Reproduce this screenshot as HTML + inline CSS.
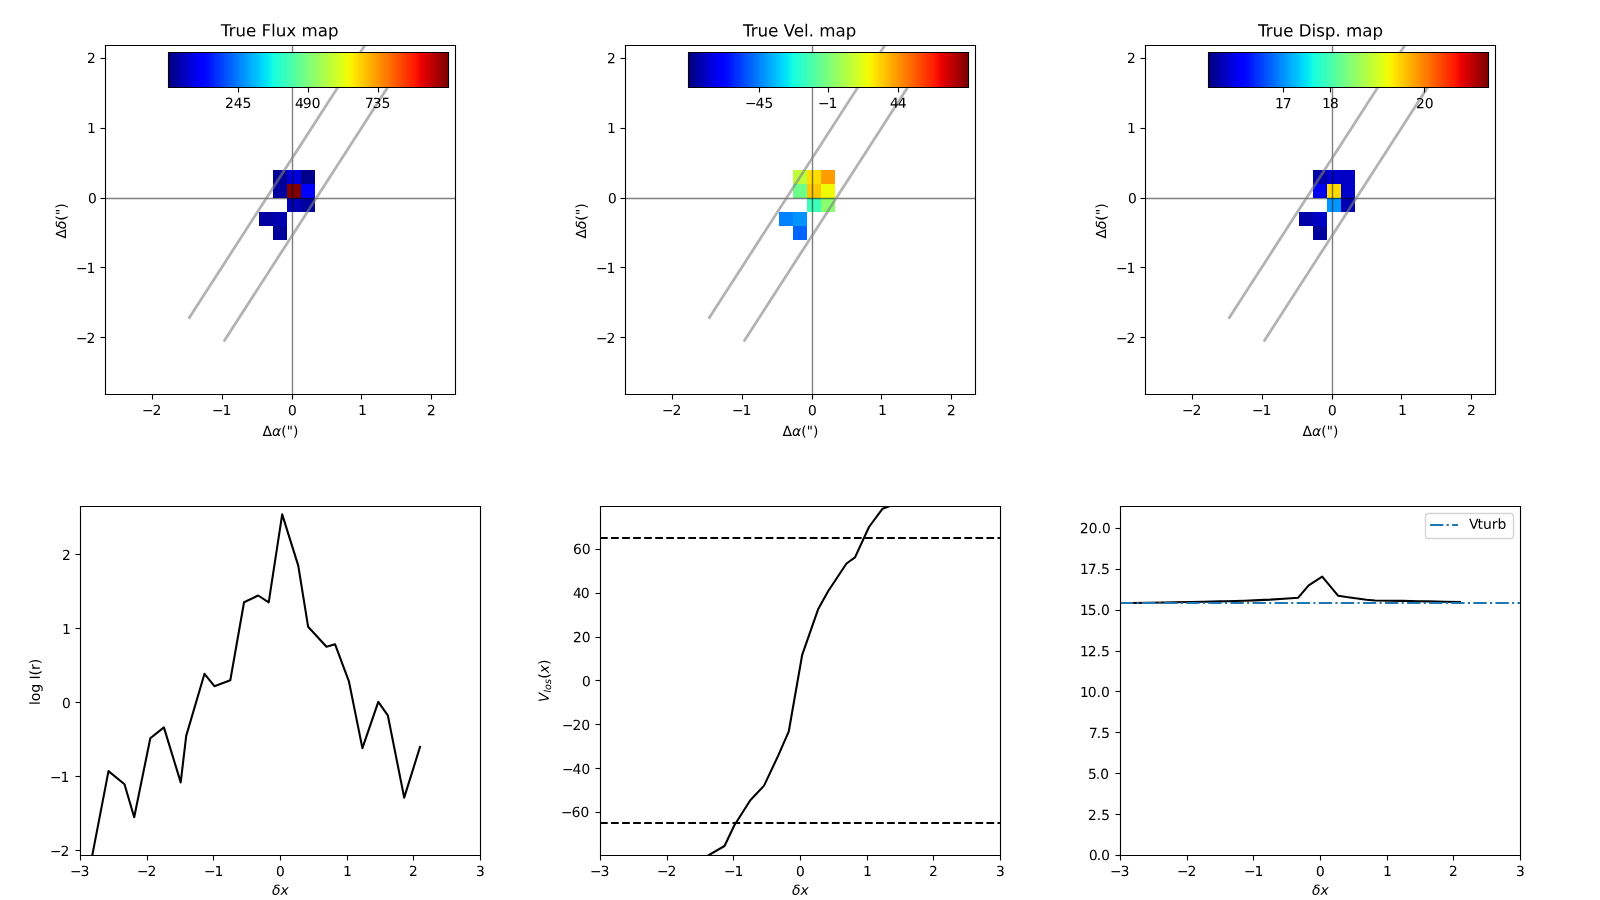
<!DOCTYPE html><html><head><meta charset="utf-8"><title>figure</title><style>html,body{margin:0;padding:0;background:#fff;font-family:"Liberation Sans",sans-serif}svg{display:block}.tx{fill:#000;fill-opacity:0;stroke:none;font-family:"Liberation Sans",sans-serif}</style></head><body><svg width="1600" height="900" viewBox="0 0 1152 648"><defs><g id="cbg" shape-rendering="crispEdges"><rect x="0" y="0" width="1" height="35" fill="#000080"/><rect x="1" y="0" width="2" height="35" fill="#000084"/><rect x="3" y="0" width="1" height="35" fill="#000089"/><rect x="4" y="0" width="1" height="35" fill="#00008d"/><rect x="5" y="0" width="1" height="35" fill="#000092"/><rect x="6" y="0" width="1" height="35" fill="#000096"/><rect x="7" y="0" width="1" height="35" fill="#00009b"/><rect x="8" y="0" width="1" height="35" fill="#00009f"/><rect x="9" y="0" width="1" height="35" fill="#0000a4"/><rect x="10" y="0" width="1" height="35" fill="#0000a8"/><rect x="11" y="0" width="1" height="35" fill="#0000ad"/><rect x="12" y="0" width="1" height="35" fill="#0000b2"/><rect x="13" y="0" width="2" height="35" fill="#0000b6"/><rect x="15" y="0" width="1" height="35" fill="#0000bb"/><rect x="16" y="0" width="1" height="35" fill="#0000bf"/><rect x="17" y="0" width="1" height="35" fill="#0000c4"/><rect x="18" y="0" width="1" height="35" fill="#0000c8"/><rect x="19" y="0" width="1" height="35" fill="#0000cd"/><rect x="20" y="0" width="1" height="35" fill="#0000d1"/><rect x="21" y="0" width="1" height="35" fill="#0000d6"/><rect x="22" y="0" width="1" height="35" fill="#0000da"/><rect x="23" y="0" width="1" height="35" fill="#0000df"/><rect x="24" y="0" width="1" height="35" fill="#0000e3"/><rect x="25" y="0" width="2" height="35" fill="#0000e8"/><rect x="27" y="0" width="1" height="35" fill="#0000ed"/><rect x="28" y="0" width="1" height="35" fill="#0000f1"/><rect x="29" y="0" width="1" height="35" fill="#0000f6"/><rect x="30" y="0" width="1" height="35" fill="#0000fa"/><rect x="31" y="0" width="5" height="35" fill="#0000ff"/><rect x="36" y="0" width="1" height="35" fill="#0004ff"/><rect x="37" y="0" width="2" height="35" fill="#0008ff"/><rect x="39" y="0" width="1" height="35" fill="#000cff"/><rect x="40" y="0" width="1" height="35" fill="#0010ff"/><rect x="41" y="0" width="1" height="35" fill="#0014ff"/><rect x="42" y="0" width="1" height="35" fill="#0018ff"/><rect x="43" y="0" width="1" height="35" fill="#001cff"/><rect x="44" y="0" width="1" height="35" fill="#0020ff"/><rect x="45" y="0" width="1" height="35" fill="#0024ff"/><rect x="46" y="0" width="1" height="35" fill="#0028ff"/><rect x="47" y="0" width="1" height="35" fill="#002cff"/><rect x="48" y="0" width="1" height="35" fill="#0030ff"/><rect x="49" y="0" width="2" height="35" fill="#0034ff"/><rect x="51" y="0" width="1" height="35" fill="#0038ff"/><rect x="52" y="0" width="1" height="35" fill="#003cff"/><rect x="53" y="0" width="1" height="35" fill="#0040ff"/><rect x="54" y="0" width="1" height="35" fill="#0044ff"/><rect x="55" y="0" width="1" height="35" fill="#0048ff"/><rect x="56" y="0" width="1" height="35" fill="#004cff"/><rect x="57" y="0" width="1" height="35" fill="#0050ff"/><rect x="58" y="0" width="1" height="35" fill="#0054ff"/><rect x="59" y="0" width="1" height="35" fill="#0058ff"/><rect x="60" y="0" width="1" height="35" fill="#005cff"/><rect x="61" y="0" width="2" height="35" fill="#0060ff"/><rect x="63" y="0" width="1" height="35" fill="#0064ff"/><rect x="64" y="0" width="1" height="35" fill="#0068ff"/><rect x="65" y="0" width="1" height="35" fill="#006cff"/><rect x="66" y="0" width="1" height="35" fill="#0070ff"/><rect x="67" y="0" width="1" height="35" fill="#0074ff"/><rect x="68" y="0" width="1" height="35" fill="#0078ff"/><rect x="69" y="0" width="1" height="35" fill="#007cff"/><rect x="70" y="0" width="1" height="35" fill="#0080ff"/><rect x="71" y="0" width="1" height="35" fill="#0084ff"/><rect x="72" y="0" width="1" height="35" fill="#0088ff"/><rect x="73" y="0" width="2" height="35" fill="#008cff"/><rect x="75" y="0" width="1" height="35" fill="#0090ff"/><rect x="76" y="0" width="1" height="35" fill="#0094ff"/><rect x="77" y="0" width="1" height="35" fill="#0098ff"/><rect x="78" y="0" width="1" height="35" fill="#009cff"/><rect x="79" y="0" width="1" height="35" fill="#00a0ff"/><rect x="80" y="0" width="1" height="35" fill="#00a4ff"/><rect x="81" y="0" width="1" height="35" fill="#00a8ff"/><rect x="82" y="0" width="1" height="35" fill="#00acff"/><rect x="83" y="0" width="1" height="35" fill="#00b0ff"/><rect x="84" y="0" width="1" height="35" fill="#00b4ff"/><rect x="85" y="0" width="2" height="35" fill="#00b8ff"/><rect x="87" y="0" width="1" height="35" fill="#00bcff"/><rect x="88" y="0" width="1" height="35" fill="#00c0ff"/><rect x="89" y="0" width="1" height="35" fill="#00c4ff"/><rect x="90" y="0" width="1" height="35" fill="#00c8ff"/><rect x="91" y="0" width="1" height="35" fill="#00ccff"/><rect x="92" y="0" width="1" height="35" fill="#00d0ff"/><rect x="93" y="0" width="1" height="35" fill="#00d4ff"/><rect x="94" y="0" width="1" height="35" fill="#00d8ff"/><rect x="95" y="0" width="1" height="35" fill="#00dcfe"/><rect x="96" y="0" width="1" height="35" fill="#00e0fb"/><rect x="97" y="0" width="2" height="35" fill="#00e4f8"/><rect x="99" y="0" width="1" height="35" fill="#02e8f4"/><rect x="100" y="0" width="1" height="35" fill="#06ecf1"/><rect x="101" y="0" width="1" height="35" fill="#09f0ee"/><rect x="102" y="0" width="1" height="35" fill="#0cf4eb"/><rect x="103" y="0" width="1" height="35" fill="#0ff8e7"/><rect x="104" y="0" width="1" height="35" fill="#13fce4"/><rect x="105" y="0" width="1" height="35" fill="#16ffe1"/><rect x="106" y="0" width="1" height="35" fill="#19ffde"/><rect x="107" y="0" width="1" height="35" fill="#1cffdb"/><rect x="108" y="0" width="1" height="35" fill="#1fffd7"/><rect x="109" y="0" width="2" height="35" fill="#23ffd4"/><rect x="111" y="0" width="1" height="35" fill="#26ffd1"/><rect x="112" y="0" width="1" height="35" fill="#29ffce"/><rect x="113" y="0" width="1" height="35" fill="#2cffca"/><rect x="114" y="0" width="1" height="35" fill="#30ffc7"/><rect x="115" y="0" width="1" height="35" fill="#33ffc4"/><rect x="116" y="0" width="1" height="35" fill="#36ffc1"/><rect x="117" y="0" width="1" height="35" fill="#39ffbe"/><rect x="118" y="0" width="1" height="35" fill="#3cffba"/><rect x="119" y="0" width="1" height="35" fill="#40ffb7"/><rect x="120" y="0" width="1" height="35" fill="#43ffb4"/><rect x="121" y="0" width="2" height="35" fill="#46ffb1"/><rect x="123" y="0" width="1" height="35" fill="#49ffad"/><rect x="124" y="0" width="1" height="35" fill="#4dffaa"/><rect x="125" y="0" width="1" height="35" fill="#50ffa7"/><rect x="126" y="0" width="1" height="35" fill="#53ffa4"/><rect x="127" y="0" width="1" height="35" fill="#56ffa0"/><rect x="128" y="0" width="1" height="35" fill="#5aff9d"/><rect x="129" y="0" width="1" height="35" fill="#5dff9a"/><rect x="130" y="0" width="1" height="35" fill="#60ff97"/><rect x="131" y="0" width="1" height="35" fill="#63ff94"/><rect x="132" y="0" width="1" height="35" fill="#66ff90"/><rect x="133" y="0" width="2" height="35" fill="#6aff8d"/><rect x="135" y="0" width="1" height="35" fill="#6dff8a"/><rect x="136" y="0" width="1" height="35" fill="#70ff87"/><rect x="137" y="0" width="1" height="35" fill="#73ff83"/><rect x="138" y="0" width="1" height="35" fill="#77ff80"/><rect x="139" y="0" width="1" height="35" fill="#7aff7d"/><rect x="140" y="0" width="1" height="35" fill="#7dff7a"/><rect x="141" y="0" width="1" height="35" fill="#80ff77"/><rect x="142" y="0" width="1" height="35" fill="#83ff73"/><rect x="143" y="0" width="1" height="35" fill="#87ff70"/><rect x="144" y="0" width="1" height="35" fill="#8aff6d"/><rect x="145" y="0" width="2" height="35" fill="#8dff6a"/><rect x="147" y="0" width="1" height="35" fill="#90ff66"/><rect x="148" y="0" width="1" height="35" fill="#94ff63"/><rect x="149" y="0" width="1" height="35" fill="#97ff60"/><rect x="150" y="0" width="1" height="35" fill="#9aff5d"/><rect x="151" y="0" width="1" height="35" fill="#9dff5a"/><rect x="152" y="0" width="1" height="35" fill="#a0ff56"/><rect x="153" y="0" width="1" height="35" fill="#a4ff53"/><rect x="154" y="0" width="1" height="35" fill="#a7ff50"/><rect x="155" y="0" width="1" height="35" fill="#aaff4d"/><rect x="156" y="0" width="1" height="35" fill="#adff49"/><rect x="157" y="0" width="2" height="35" fill="#b1ff46"/><rect x="159" y="0" width="1" height="35" fill="#b4ff43"/><rect x="160" y="0" width="1" height="35" fill="#b7ff40"/><rect x="161" y="0" width="1" height="35" fill="#baff3c"/><rect x="162" y="0" width="1" height="35" fill="#beff39"/><rect x="163" y="0" width="1" height="35" fill="#c1ff36"/><rect x="164" y="0" width="1" height="35" fill="#c4ff33"/><rect x="165" y="0" width="1" height="35" fill="#c7ff30"/><rect x="166" y="0" width="1" height="35" fill="#caff2c"/><rect x="167" y="0" width="1" height="35" fill="#ceff29"/><rect x="168" y="0" width="1" height="35" fill="#d1ff26"/><rect x="169" y="0" width="2" height="35" fill="#d4ff23"/><rect x="171" y="0" width="1" height="35" fill="#d7ff1f"/><rect x="172" y="0" width="1" height="35" fill="#dbff1c"/><rect x="173" y="0" width="1" height="35" fill="#deff19"/><rect x="174" y="0" width="1" height="35" fill="#e1ff16"/><rect x="175" y="0" width="1" height="35" fill="#e4ff13"/><rect x="176" y="0" width="1" height="35" fill="#e7ff0f"/><rect x="177" y="0" width="1" height="35" fill="#ebff0c"/><rect x="178" y="0" width="1" height="35" fill="#eeff09"/><rect x="179" y="0" width="1" height="35" fill="#f1fc06"/><rect x="180" y="0" width="1" height="35" fill="#f4f802"/><rect x="181" y="0" width="2" height="35" fill="#f8f500"/><rect x="183" y="0" width="1" height="35" fill="#fbf100"/><rect x="184" y="0" width="1" height="35" fill="#feed00"/><rect x="185" y="0" width="1" height="35" fill="#ffea00"/><rect x="186" y="0" width="1" height="35" fill="#ffe600"/><rect x="187" y="0" width="1" height="35" fill="#ffe200"/><rect x="188" y="0" width="1" height="35" fill="#ffde00"/><rect x="189" y="0" width="1" height="35" fill="#ffdb00"/><rect x="190" y="0" width="1" height="35" fill="#ffd700"/><rect x="191" y="0" width="1" height="35" fill="#ffd300"/><rect x="192" y="0" width="1" height="35" fill="#ffd000"/><rect x="193" y="0" width="2" height="35" fill="#ffcc00"/><rect x="195" y="0" width="1" height="35" fill="#ffc800"/><rect x="196" y="0" width="1" height="35" fill="#ffc400"/><rect x="197" y="0" width="1" height="35" fill="#ffc100"/><rect x="198" y="0" width="1" height="35" fill="#ffbd00"/><rect x="199" y="0" width="1" height="35" fill="#ffb900"/><rect x="200" y="0" width="1" height="35" fill="#ffb600"/><rect x="201" y="0" width="1" height="35" fill="#ffb200"/><rect x="202" y="0" width="1" height="35" fill="#ffae00"/><rect x="203" y="0" width="1" height="35" fill="#ffab00"/><rect x="204" y="0" width="1" height="35" fill="#ffa700"/><rect x="205" y="0" width="2" height="35" fill="#ffa300"/><rect x="207" y="0" width="1" height="35" fill="#ff9f00"/><rect x="208" y="0" width="1" height="35" fill="#ff9c00"/><rect x="209" y="0" width="1" height="35" fill="#ff9800"/><rect x="210" y="0" width="1" height="35" fill="#ff9400"/><rect x="211" y="0" width="1" height="35" fill="#ff9100"/><rect x="212" y="0" width="1" height="35" fill="#ff8d00"/><rect x="213" y="0" width="1" height="35" fill="#ff8900"/><rect x="214" y="0" width="1" height="35" fill="#ff8600"/><rect x="215" y="0" width="1" height="35" fill="#ff8200"/><rect x="216" y="0" width="1" height="35" fill="#ff7e00"/><rect x="217" y="0" width="2" height="35" fill="#ff7a00"/><rect x="219" y="0" width="1" height="35" fill="#ff7700"/><rect x="220" y="0" width="1" height="35" fill="#ff7300"/><rect x="221" y="0" width="1" height="35" fill="#ff6f00"/><rect x="222" y="0" width="1" height="35" fill="#ff6c00"/><rect x="223" y="0" width="1" height="35" fill="#ff6800"/><rect x="224" y="0" width="1" height="35" fill="#ff6400"/><rect x="225" y="0" width="1" height="35" fill="#ff6000"/><rect x="226" y="0" width="1" height="35" fill="#ff5d00"/><rect x="227" y="0" width="1" height="35" fill="#ff5900"/><rect x="228" y="0" width="1" height="35" fill="#ff5500"/><rect x="229" y="0" width="2" height="35" fill="#ff5200"/><rect x="231" y="0" width="1" height="35" fill="#ff4e00"/><rect x="232" y="0" width="1" height="35" fill="#ff4a00"/><rect x="233" y="0" width="1" height="35" fill="#ff4700"/><rect x="234" y="0" width="1" height="35" fill="#ff4300"/><rect x="235" y="0" width="1" height="35" fill="#ff3f00"/><rect x="236" y="0" width="1" height="35" fill="#ff3b00"/><rect x="237" y="0" width="1" height="35" fill="#ff3800"/><rect x="238" y="0" width="1" height="35" fill="#ff3400"/><rect x="239" y="0" width="1" height="35" fill="#ff3000"/><rect x="240" y="0" width="1" height="35" fill="#ff2d00"/><rect x="241" y="0" width="2" height="35" fill="#ff2900"/><rect x="243" y="0" width="1" height="35" fill="#ff2500"/><rect x="244" y="0" width="1" height="35" fill="#ff2200"/><rect x="245" y="0" width="1" height="35" fill="#ff1e00"/><rect x="246" y="0" width="1" height="35" fill="#ff1a00"/><rect x="247" y="0" width="1" height="35" fill="#ff1600"/><rect x="248" y="0" width="1" height="35" fill="#ff1300"/><rect x="249" y="0" width="1" height="35" fill="#fa0f00"/><rect x="250" y="0" width="1" height="35" fill="#f60b00"/><rect x="251" y="0" width="1" height="35" fill="#f10800"/><rect x="252" y="0" width="1" height="35" fill="#ed0400"/><rect x="253" y="0" width="2" height="35" fill="#e80000"/><rect x="255" y="0" width="1" height="35" fill="#e40000"/><rect x="256" y="0" width="1" height="35" fill="#df0000"/><rect x="257" y="0" width="1" height="35" fill="#da0000"/><rect x="258" y="0" width="1" height="35" fill="#d60000"/><rect x="259" y="0" width="1" height="35" fill="#d10000"/><rect x="260" y="0" width="1" height="35" fill="#cd0000"/><rect x="261" y="0" width="1" height="35" fill="#c80000"/><rect x="262" y="0" width="1" height="35" fill="#c40000"/><rect x="263" y="0" width="1" height="35" fill="#bf0000"/><rect x="264" y="0" width="1" height="35" fill="#bb0000"/><rect x="265" y="0" width="2" height="35" fill="#b60000"/><rect x="267" y="0" width="1" height="35" fill="#b20000"/><rect x="268" y="0" width="1" height="35" fill="#ad0000"/><rect x="269" y="0" width="1" height="35" fill="#a80000"/><rect x="270" y="0" width="1" height="35" fill="#a40000"/><rect x="271" y="0" width="1" height="35" fill="#9f0000"/><rect x="272" y="0" width="1" height="35" fill="#9b0000"/><rect x="273" y="0" width="1" height="35" fill="#960000"/><rect x="274" y="0" width="1" height="35" fill="#920000"/><rect x="275" y="0" width="1" height="35" fill="#8d0000"/><rect x="276" y="0" width="1" height="35" fill="#890000"/><rect x="277" y="0" width="2" height="35" fill="#840000"/><rect x="279" y="0" width="2" height="35" fill="#800000"/></g><style type="text/css">*{stroke-linejoin: round; stroke-linecap: butt}</style></defs><g id="figure_1"><g id="patch_1"><path d="M 0 648 L 1152 648 L 1152 0 L 0 0 z " style="fill: #ffffff"/></g><g id="axes_1"><g id="patch_2"><path d="M 75.910345 283.77931 L 327.289655 283.77931 L 327.289655 32.4 L 75.910345 32.4 z " style="fill: #ffffff"/></g><g clip-path="url(#p68ffd751c0)"><g class="img" transform="scale(0.72)" shape-rendering="crispEdges"><rect x="273" y="170" width="14" height="14" fill="#000096"/><rect x="287" y="170" width="14" height="14" fill="#0000da"/><rect x="301" y="170" width="14" height="14" fill="#00008c"/><rect x="273" y="184" width="14" height="14" fill="#0000a0"/><rect x="287" y="184" width="14" height="14" fill="#800000"/><rect x="301" y="184" width="14" height="14" fill="#0000ff"/><rect x="287" y="198" width="14" height="14" fill="#0000b4"/><rect x="301" y="198" width="14" height="14" fill="#0000a0"/><rect x="259" y="212" width="14" height="14" fill="#0000a0"/><rect x="273" y="212" width="14" height="14" fill="#0000af"/><rect x="273" y="226" width="14" height="14" fill="#00009b"/></g></g><g id="matplotlib.axis_1"><g id="xtick_1"><g id="line2d_1"><defs><path id="m1504cfccaf" d="M 0 0 L 0 3.6 " style="stroke: #000000; stroke-width: 0.8"/></defs><g><use href="#m1504cfccaf" x="109.8" y="284.04" style="stroke: #000000; stroke-width: 0.8"/></g></g><g id="text_1"><text class="tx" x="102.1864" y="298.8106" font-size="10">−2</text><g transform="translate(102.1864 298.8106) scale(0.1 -0.1)"><defs><path id="DejaVuSans-2212" d="M 678 2272 L 4684 2272 L 4684 1741 L 678 1741 L 678 2272 z " transform="scale(0.015625)"/><path id="DejaVuSans-32" d="M 1228 531 L 3431 531 L 3431 0 L 469 0 L 469 531 Q 828 903 1448 1529 Q 2069 2156 2228 2338 Q 2531 2678 2651 2914 Q 2772 3150 2772 3378 Q 2772 3750 2511 3984 Q 2250 4219 1831 4219 Q 1534 4219 1204 4116 Q 875 4013 500 3803 L 500 4441 Q 881 4594 1212 4672 Q 1544 4750 1819 4750 Q 2544 4750 2975 4387 Q 3406 4025 3406 3419 Q 3406 3131 3298 2873 Q 3191 2616 2906 2266 Q 2828 2175 2409 1742 Q 1991 1309 1228 531 z " transform="scale(0.015625)"/></defs><use href="#DejaVuSans-2212"/><use href="#DejaVuSans-32" transform="translate(76.5891 0)"/></g></g></g><g id="xtick_2"><g id="line2d_2"><g><use href="#m1504cfccaf" x="160.2" y="284.04" style="stroke: #000000; stroke-width: 0.8"/></g></g><g id="text_2"><text class="tx" x="152.5784" y="298.8021" font-size="10">−1</text><g transform="translate(152.5784 298.8021) scale(0.1 -0.1)"><defs><path id="DejaVuSans-31" d="M 794 531 L 1825 531 L 1825 4091 L 703 3866 L 703 4441 L 1819 4666 L 2450 4666 L 2450 531 L 3481 531 L 3481 0 L 794 0 L 794 531 z " transform="scale(0.015625)"/></defs><use href="#DejaVuSans-2212"/><use href="#DejaVuSans-31" transform="translate(76.5891 0)"/></g></g></g><g id="xtick_3"><g id="line2d_3"><g><use href="#m1504cfccaf" x="210.6" y="284.04" style="stroke: #000000; stroke-width: 0.8"/></g></g><g id="text_3"><text class="tx" x="207.3206" y="298.9373" font-size="10">0</text><g transform="translate(207.3206 298.9373) scale(0.1 -0.1)"><defs><path id="DejaVuSans-30" d="M 2034 4250 Q 1547 4250 1301 3770 Q 1056 3291 1056 2328 Q 1056 1369 1301 889 Q 1547 409 2034 409 Q 2525 409 2770 889 Q 3016 1369 3016 2328 Q 3016 3291 2770 3770 Q 2525 4250 2034 4250 z M 2034 4750 Q 2819 4750 3233 4129 Q 3647 3509 3647 2328 Q 3647 1150 3233 529 Q 2819 -91 2034 -91 Q 1250 -91 836 529 Q 422 1150 422 2328 Q 422 3509 836 4129 Q 1250 4750 2034 4750 z " transform="scale(0.015625)"/></defs><use href="#DejaVuSans-30"/></g></g></g><g id="xtick_4"><g id="line2d_4"><g><use href="#m1504cfccaf" x="260.28" y="284.04" style="stroke: #000000; stroke-width: 0.8"/></g></g><g id="text_4"><text class="tx" x="257.783" y="298.8172" font-size="10">1</text><g transform="translate(257.783 298.8172) scale(0.1 -0.1)"><use href="#DejaVuSans-31"/></g></g></g><g id="xtick_5"><g id="line2d_5"><g><use href="#m1504cfccaf" x="310.68" y="284.04" style="stroke: #000000; stroke-width: 0.8"/></g></g><g id="text_5"><text class="tx" x="307.3923" y="298.9229" font-size="10">2</text><g transform="translate(307.3923 298.9229) scale(0.1 -0.1)"><use href="#DejaVuSans-32"/></g></g></g><g id="text_6"><text class="tx" x="189.0343" y="313.8742" font-size="10">Δα(")</text><g transform="translate(189.0343 313.8742) scale(0.1 -0.1)"><defs><path id="DejaVuSans-394" d="M 2188 4044 L 906 525 L 3472 525 L 2188 4044 z M 50 0 L 1831 4666 L 2547 4666 L 4325 0 L 50 0 z " transform="scale(0.015625)"/><path id="DejaVuSans-Oblique-3b1" d="M 2619 1628 L 2622 2350 Q 2625 3088 2069 3091 Q 1653 3094 1394 2747 Q 1069 2319 959 1747 Q 825 1059 994 731 Q 1169 397 1547 397 Q 1966 397 2319 1063 L 2619 1628 z M 2166 3578 Q 3141 3594 3128 2584 Q 3128 2584 3616 3500 L 4128 3500 L 3119 1603 L 3109 919 Q 3109 766 3194 638 Q 3291 488 3391 488 L 3669 488 L 3575 0 L 3228 0 Q 2934 0 2722 263 Q 2622 394 2619 669 Q 2416 334 2066 50 Q 1900 -81 1453 -78 Q 722 -72 456 397 Q 184 884 353 1747 Q 534 2675 1009 3097 Q 1544 3569 2166 3578 z " transform="scale(0.015625)"/><path id="DejaVuSans-28" d="M 1984 4856 Q 1566 4138 1362 3434 Q 1159 2731 1159 2009 Q 1159 1288 1364 580 Q 1569 -128 1984 -844 L 1484 -844 Q 1016 -109 783 600 Q 550 1309 550 2009 Q 550 2706 781 3412 Q 1013 4119 1484 4856 L 1984 4856 z " transform="scale(0.015625)"/><path id="DejaVuSans-22" d="M 1147 4666 L 1147 2931 L 616 2931 L 616 4666 L 1147 4666 z M 2328 4666 L 2328 2931 L 1797 2931 L 1797 4666 L 2328 4666 z " transform="scale(0.015625)"/><path id="DejaVuSans-29" d="M 513 4856 L 1013 4856 Q 1481 4119 1714 3412 Q 1947 2706 1947 2009 Q 1947 1309 1714 600 Q 1481 -109 1013 -844 L 513 -844 Q 928 -128 1133 580 Q 1338 1288 1338 2009 Q 1338 2731 1133 3434 Q 928 4138 513 4856 z " transform="scale(0.015625)"/></defs><use href="#DejaVuSans-394" transform="translate(0 0.125)"/><use href="#DejaVuSans-Oblique-3b1" transform="translate(68.408203 0.125)"/><use href="#DejaVuSans-28" transform="translate(134.326172 0.125)"/><use href="#DejaVuSans-22" transform="translate(173.339844 0.125)"/><use href="#DejaVuSans-29" transform="translate(219.335938 0.125)"/></g></g></g><g id="matplotlib.axis_2"><g id="ytick_1"><g id="line2d_6"><defs><path id="m5d545ce8f8" d="M 0 0 L -3.6 0 " style="stroke: #000000; stroke-width: 0.8"/></defs><g><use href="#m5d545ce8f8" x="75.96" y="243" style="stroke: #000000; stroke-width: 0.8"/></g></g><g id="text_7"><text class="tx" x="54.6636" y="246.9586" font-size="10">−2</text><g transform="translate(54.6636 246.9586) scale(0.1 -0.1)"><use href="#DejaVuSans-2212"/><use href="#DejaVuSans-32" transform="translate(76.5891 0)"/></g></g></g><g id="ytick_2"><g id="line2d_7"><g><use href="#m5d545ce8f8" x="75.96" y="192.6" style="stroke: #000000; stroke-width: 0.8"/></g></g><g id="text_8"><text class="tx" x="54.6635" y="196.5376" font-size="10">−1</text><g transform="translate(54.6635 196.5376) scale(0.1 -0.1)"><use href="#DejaVuSans-2212"/><use href="#DejaVuSans-31" transform="translate(76.5891 0)"/></g></g></g><g id="ytick_3"><g id="line2d_8"><g><use href="#m5d545ce8f8" x="75.96" y="142.92" style="stroke: #000000; stroke-width: 0.8"/></g></g><g id="text_9"><text class="tx" x="63.3206" y="146.2976" font-size="10">0</text><g transform="translate(63.3206 146.2976) scale(0.1 -0.1)"><use href="#DejaVuSans-30"/></g></g></g><g id="ytick_4"><g id="line2d_9"><g><use href="#m5d545ce8f8" x="75.96" y="92.52" style="stroke: #000000; stroke-width: 0.8"/></g></g><g id="text_10"><text class="tx" x="62.6605" y="95.7612" font-size="10">1</text><g transform="translate(62.6605 95.7612) scale(0.1 -0.1)"><use href="#DejaVuSans-31"/></g></g></g><g id="ytick_5"><g id="line2d_10"><g><use href="#m5d545ce8f8" x="75.96" y="42.12" style="stroke: #000000; stroke-width: 0.8"/></g></g><g id="text_11"><text class="tx" x="62.6025" y="45.3669" font-size="10">2</text><g transform="translate(62.6025 45.3669) scale(0.1 -0.1)"><use href="#DejaVuSans-32"/></g></g></g><g id="text_12"><text class="tx" x="47.4995" y="171.7789" font-size="10" transform="rotate(-90 47.4995 171.7789)">Δδ(")</text><g transform="translate(47.4995 171.7789) rotate(-90) scale(0.1 -0.1)"><defs><path id="DejaVuSans-Oblique-3b4" d="M 3472 4053 Q 3197 4272 2450 4272 Q 1659 4272 1588 3906 Q 1531 3619 2328 3469 Q 2953 3353 3253 3003 Q 3616 2581 3447 1716 Q 3284 888 2763 400 Q 2238 -91 1488 -91 Q 741 -91 406 400 Q 72 888 241 1747 Q 363 2384 891 2900 Q 1097 3100 1353 3213 Q 913 3459 1000 3900 Q 1166 4750 2544 4750 Q 3234 4750 3566 4531 L 3472 4053 z M 1753 3056 Q 1525 2966 1306 2738 Q 969 2384 847 1747 Q 722 1113 919 756 Q 1119 397 1584 397 Q 2044 397 2381 759 Q 2722 1122 2838 1716 Q 2956 2338 2731 2638 Q 2491 2959 2103 2994 Q 1906 3013 1753 3056 z " transform="scale(0.015625)"/></defs><use href="#DejaVuSans-394" transform="translate(0 0.125)"/><use href="#DejaVuSans-Oblique-3b4" transform="translate(68.408203 0.125)"/><use href="#DejaVuSans-28" transform="translate(129.589844 0.125)"/><use href="#DejaVuSans-22" transform="translate(168.603516 0.125)"/><use href="#DejaVuSans-29" transform="translate(214.599609 0.125)"/></g></g></g><g id="line2d_11"><path d="M 75.96 142.92 L 327.96 142.92" clip-path="url(#p68ffd751c0)" style="fill: none; stroke: #000000; stroke-opacity: 0.5; stroke-linecap: square"/></g><g id="line2d_12"><path d="M 210.6 284.04 L 210.6 32.76" clip-path="url(#p68ffd751c0)" style="fill: none; stroke: #000000; stroke-opacity: 0.5; stroke-linecap: square"/></g><g id="line2d_13"><path d="M 136.372785 228.679907 L 265.411492 28.451029 " clip-path="url(#p68ffd751c0)" style="fill: none; stroke: #808080; stroke-opacity: 0.6; stroke-width: 2; stroke-linecap: square"/></g><g id="line2d_14"><path d="M 161.728912 245.020815 L 290.767618 44.791937 " clip-path="url(#p68ffd751c0)" style="fill: none; stroke: #808080; stroke-opacity: 0.6; stroke-width: 2; stroke-linecap: square"/></g><g id="patch_3"><path d="M 75.96 284.04 L 75.96 32.76" style="fill: none; stroke: #000000; stroke-width: 0.8; stroke-linejoin: miter; stroke-linecap: square"/></g><g id="patch_4"><path d="M 327.96 284.04 L 327.96 32.76" style="fill: none; stroke: #000000; stroke-width: 0.8; stroke-linejoin: miter; stroke-linecap: square"/></g><g id="patch_5"><path d="M 75.96 284.04 L 327.96 284.04" style="fill: none; stroke: #000000; stroke-width: 0.8; stroke-linejoin: miter; stroke-linecap: square"/></g><g id="patch_6"><path d="M 75.96 32.76 L 327.96 32.76" style="fill: none; stroke: #000000; stroke-width: 0.8; stroke-linejoin: miter; stroke-linecap: square"/></g><g id="text_13"><text class="tx" x="159.0231" y="26.1718" font-size="12">True Flux map</text><g transform="translate(159.0231 26.1718) scale(0.12 -0.12)"><defs><path id="DejaVuSans-54" d="M -19 4666 L 3928 4666 L 3928 4134 L 2272 4134 L 2272 0 L 1638 0 L 1638 4134 L -19 4134 L -19 4666 z " transform="scale(0.015625)"/><path id="DejaVuSans-72" d="M 2631 2963 Q 2534 3019 2420 3045 Q 2306 3072 2169 3072 Q 1681 3072 1420 2755 Q 1159 2438 1159 1844 L 1159 0 L 581 0 L 581 3500 L 1159 3500 L 1159 2956 Q 1341 3275 1631 3429 Q 1922 3584 2338 3584 Q 2397 3584 2469 3576 Q 2541 3569 2628 3553 L 2631 2963 z " transform="scale(0.015625)"/><path id="DejaVuSans-75" d="M 544 1381 L 544 3500 L 1119 3500 L 1119 1403 Q 1119 906 1312 657 Q 1506 409 1894 409 Q 2359 409 2629 706 Q 2900 1003 2900 1516 L 2900 3500 L 3475 3500 L 3475 0 L 2900 0 L 2900 538 Q 2691 219 2414 64 Q 2138 -91 1772 -91 Q 1169 -91 856 284 Q 544 659 544 1381 z M 1991 3584 L 1991 3584 z " transform="scale(0.015625)"/><path id="DejaVuSans-65" d="M 3597 1894 L 3597 1613 L 953 1613 Q 991 1019 1311 708 Q 1631 397 2203 397 Q 2534 397 2845 478 Q 3156 559 3463 722 L 3463 178 Q 3153 47 2828 -22 Q 2503 -91 2169 -91 Q 1331 -91 842 396 Q 353 884 353 1716 Q 353 2575 817 3079 Q 1281 3584 2069 3584 Q 2775 3584 3186 3129 Q 3597 2675 3597 1894 z M 3022 2063 Q 3016 2534 2758 2815 Q 2500 3097 2075 3097 Q 1594 3097 1305 2825 Q 1016 2553 972 2059 L 3022 2063 z " transform="scale(0.015625)"/><path id="DejaVuSans-20" transform="scale(0.015625)"/><path id="DejaVuSans-46" d="M 628 4666 L 3309 4666 L 3309 4134 L 1259 4134 L 1259 2759 L 3109 2759 L 3109 2228 L 1259 2228 L 1259 0 L 628 0 L 628 4666 z " transform="scale(0.015625)"/><path id="DejaVuSans-6c" d="M 603 4863 L 1178 4863 L 1178 0 L 603 0 L 603 4863 z " transform="scale(0.015625)"/><path id="DejaVuSans-78" d="M 3513 3500 L 2247 1797 L 3578 0 L 2900 0 L 1881 1375 L 863 0 L 184 0 L 1544 1831 L 300 3500 L 978 3500 L 1906 2253 L 2834 3500 L 3513 3500 z " transform="scale(0.015625)"/><path id="DejaVuSans-6d" d="M 3328 2828 Q 3544 3216 3844 3400 Q 4144 3584 4550 3584 Q 5097 3584 5394 3201 Q 5691 2819 5691 2113 L 5691 0 L 5113 0 L 5113 2094 Q 5113 2597 4934 2840 Q 4756 3084 4391 3084 Q 3944 3084 3684 2787 Q 3425 2491 3425 1978 L 3425 0 L 2847 0 L 2847 2094 Q 2847 2600 2669 2842 Q 2491 3084 2119 3084 Q 1678 3084 1418 2786 Q 1159 2488 1159 1978 L 1159 0 L 581 0 L 581 3500 L 1159 3500 L 1159 2956 Q 1356 3278 1631 3431 Q 1906 3584 2284 3584 Q 2666 3584 2933 3390 Q 3200 3197 3328 2828 z " transform="scale(0.015625)"/><path id="DejaVuSans-61" d="M 2194 1759 Q 1497 1759 1228 1600 Q 959 1441 959 1056 Q 959 750 1161 570 Q 1363 391 1709 391 Q 2188 391 2477 730 Q 2766 1069 2766 1631 L 2766 1759 L 2194 1759 z M 3341 1997 L 3341 0 L 2766 0 L 2766 531 Q 2569 213 2275 61 Q 1981 -91 1556 -91 Q 1019 -91 701 211 Q 384 513 384 1019 Q 384 1609 779 1909 Q 1175 2209 1959 2209 L 2766 2209 L 2766 2266 Q 2766 2663 2505 2880 Q 2244 3097 1772 3097 Q 1472 3097 1187 3025 Q 903 2953 641 2809 L 641 3341 Q 956 3463 1253 3523 Q 1550 3584 1831 3584 Q 2591 3584 2966 3190 Q 3341 2797 3341 1997 z " transform="scale(0.015625)"/><path id="DejaVuSans-70" d="M 1159 525 L 1159 -1331 L 581 -1331 L 581 3500 L 1159 3500 L 1159 2969 Q 1341 3281 1617 3432 Q 1894 3584 2278 3584 Q 2916 3584 3314 3078 Q 3713 2572 3713 1747 Q 3713 922 3314 415 Q 2916 -91 2278 -91 Q 1894 -91 1617 61 Q 1341 213 1159 525 z M 3116 1747 Q 3116 2381 2855 2742 Q 2594 3103 2138 3103 Q 1681 3103 1420 2742 Q 1159 2381 1159 1747 Q 1159 1113 1420 752 Q 1681 391 2138 391 Q 2594 391 2855 752 Q 3116 1113 3116 1747 z " transform="scale(0.015625)"/></defs><use href="#DejaVuSans-54"/><use href="#DejaVuSans-72" transform="translate(46.333984 0)"/><use href="#DejaVuSans-75" transform="translate(87.447266 0)"/><use href="#DejaVuSans-65" transform="translate(150.826172 0)"/><use href="#DejaVuSans-20" transform="translate(212.349609 0)"/><use href="#DejaVuSans-46" transform="translate(244.136719 0)"/><use href="#DejaVuSans-6c" transform="translate(301.65625 0)"/><use href="#DejaVuSans-75" transform="translate(329.439453 0)"/><use href="#DejaVuSans-78" transform="translate(392.818359 0)"/><use href="#DejaVuSans-20" transform="translate(451.998047 0)"/><use href="#DejaVuSans-6d" transform="translate(483.785156 0)"/><use href="#DejaVuSans-61" transform="translate(581.197266 0)"/><use href="#DejaVuSans-70" transform="translate(642.476562 0)"/></g></g></g><g id="axes_2"><g id="patch_7"><path d="M 450.310345 283.77931 L 701.689655 283.77931 L 701.689655 32.4 L 450.310345 32.4 z " style="fill: #ffffff"/></g><g clip-path="url(#p68da430386)"><g class="img" transform="scale(0.72)" shape-rendering="crispEdges"><rect x="793" y="170" width="14" height="14" fill="#bcff3a"/><rect x="807" y="170" width="14" height="14" fill="#ffde00"/><rect x="821" y="170" width="14" height="14" fill="#ff9d00"/><rect x="793" y="184" width="14" height="14" fill="#6eff89"/><rect x="807" y="184" width="14" height="14" fill="#ffc800"/><rect x="821" y="184" width="14" height="14" fill="#f0fc06"/><rect x="807" y="198" width="14" height="14" fill="#3effb9"/><rect x="821" y="198" width="14" height="14" fill="#8aff6d"/><rect x="779" y="212" width="14" height="14" fill="#0082ff"/><rect x="793" y="212" width="14" height="14" fill="#0094ff"/><rect x="793" y="226" width="14" height="14" fill="#0064ff"/></g></g><g id="matplotlib.axis_3"><g id="xtick_6"><g id="line2d_15"><g><use href="#m1504cfccaf" x="484.2" y="284.04" style="stroke: #000000; stroke-width: 0.8"/></g></g><g id="text_14"><text class="tx" x="476.5871" y="298.8103" font-size="10">−2</text><g transform="translate(476.5871 298.8103) scale(0.1 -0.1)"><use href="#DejaVuSans-2212"/><use href="#DejaVuSans-32" transform="translate(76.5891 0)"/></g></g></g><g id="xtick_7"><g id="line2d_16"><g><use href="#m1504cfccaf" x="534.6" y="284.04" style="stroke: #000000; stroke-width: 0.8"/></g></g><g id="text_15"><text class="tx" x="526.9784" y="298.8021" font-size="10">−1</text><g transform="translate(526.9784 298.8021) scale(0.1 -0.1)"><use href="#DejaVuSans-2212"/><use href="#DejaVuSans-31" transform="translate(76.5891 0)"/></g></g></g><g id="xtick_8"><g id="line2d_17"><g><use href="#m1504cfccaf" x="585" y="284.04" style="stroke: #000000; stroke-width: 0.8"/></g></g><g id="text_16"><text class="tx" x="581.7206" y="298.9373" font-size="10">0</text><g transform="translate(581.7206 298.9373) scale(0.1 -0.1)"><use href="#DejaVuSans-30"/></g></g></g><g id="xtick_9"><g id="line2d_18"><g><use href="#m1504cfccaf" x="634.68" y="284.04" style="stroke: #000000; stroke-width: 0.8"/></g></g><g id="text_17"><text class="tx" x="632.183" y="298.8172" font-size="10">1</text><g transform="translate(632.183 298.8172) scale(0.1 -0.1)"><use href="#DejaVuSans-31"/></g></g></g><g id="xtick_10"><g id="line2d_19"><g><use href="#m1504cfccaf" x="685.08" y="284.04" style="stroke: #000000; stroke-width: 0.8"/></g></g><g id="text_18"><text class="tx" x="681.7923" y="298.9229" font-size="10">2</text><g transform="translate(681.7923 298.9229) scale(0.1 -0.1)"><use href="#DejaVuSans-32"/></g></g></g><g id="text_19"><text class="tx" x="563.4308" y="313.8734" font-size="10">Δα(")</text><g transform="translate(563.4308 313.8734) scale(0.1 -0.1)"><use href="#DejaVuSans-394" transform="translate(0 0.125)"/><use href="#DejaVuSans-Oblique-3b1" transform="translate(68.408203 0.125)"/><use href="#DejaVuSans-28" transform="translate(134.326172 0.125)"/><use href="#DejaVuSans-22" transform="translate(173.339844 0.125)"/><use href="#DejaVuSans-29" transform="translate(219.335938 0.125)"/></g></g></g><g id="matplotlib.axis_4"><g id="ytick_6"><g id="line2d_20"><g><use href="#m5d545ce8f8" x="450.36" y="243" style="stroke: #000000; stroke-width: 0.8"/></g></g><g id="text_20"><text class="tx" x="429.0673" y="246.9727" font-size="10">−2</text><g transform="translate(429.0673 246.9727) scale(0.1 -0.1)"><use href="#DejaVuSans-2212"/><use href="#DejaVuSans-32" transform="translate(76.5891 0)"/></g></g></g><g id="ytick_7"><g id="line2d_21"><g><use href="#m5d545ce8f8" x="450.36" y="192.6" style="stroke: #000000; stroke-width: 0.8"/></g></g><g id="text_21"><text class="tx" x="429.0635" y="196.5376" font-size="10">−1</text><g transform="translate(429.0635 196.5376) scale(0.1 -0.1)"><use href="#DejaVuSans-2212"/><use href="#DejaVuSans-31" transform="translate(76.5891 0)"/></g></g></g><g id="ytick_8"><g id="line2d_22"><g><use href="#m5d545ce8f8" x="450.36" y="142.92" style="stroke: #000000; stroke-width: 0.8"/></g></g><g id="text_22"><text class="tx" x="437.6918" y="146.2976" font-size="10">0</text><g transform="translate(437.6918 146.2976) scale(0.1 -0.1)"><use href="#DejaVuSans-30"/></g></g></g><g id="ytick_9"><g id="line2d_23"><g><use href="#m5d545ce8f8" x="450.36" y="92.52" style="stroke: #000000; stroke-width: 0.8"/></g></g><g id="text_23"><text class="tx" x="437.0612" y="95.7612" font-size="10">1</text><g transform="translate(437.0612 95.7612) scale(0.1 -0.1)"><use href="#DejaVuSans-31"/></g></g></g><g id="ytick_10"><g id="line2d_24"><g><use href="#m5d545ce8f8" x="450.36" y="42.12" style="stroke: #000000; stroke-width: 0.8"/></g></g><g id="text_24"><text class="tx" x="437.0067" y="45.5382" font-size="10">2</text><g transform="translate(437.0067 45.5382) scale(0.1 -0.1)"><use href="#DejaVuSans-32"/></g></g></g><g id="text_25"><text class="tx" x="421.8995" y="171.7789" font-size="10" transform="rotate(-90 421.8995 171.7789)">Δδ(")</text><g transform="translate(421.8995 171.7789) rotate(-90) scale(0.1 -0.1)"><use href="#DejaVuSans-394" transform="translate(0 0.125)"/><use href="#DejaVuSans-Oblique-3b4" transform="translate(68.408203 0.125)"/><use href="#DejaVuSans-28" transform="translate(129.589844 0.125)"/><use href="#DejaVuSans-22" transform="translate(168.603516 0.125)"/><use href="#DejaVuSans-29" transform="translate(214.599609 0.125)"/></g></g></g><g id="line2d_25"><path d="M 450.36 142.92 L 702.36 142.92" clip-path="url(#p68da430386)" style="fill: none; stroke: #000000; stroke-opacity: 0.5; stroke-linecap: square"/></g><g id="line2d_26"><path d="M 585 284.04 L 585 32.76" clip-path="url(#p68da430386)" style="fill: none; stroke: #000000; stroke-opacity: 0.5; stroke-linecap: square"/></g><g id="line2d_27"><path d="M 510.772785 228.679907 L 639.811492 28.451029 " clip-path="url(#p68da430386)" style="fill: none; stroke: #808080; stroke-opacity: 0.6; stroke-width: 2; stroke-linecap: square"/></g><g id="line2d_28"><path d="M 536.128912 245.020815 L 665.167618 44.791937 " clip-path="url(#p68da430386)" style="fill: none; stroke: #808080; stroke-opacity: 0.6; stroke-width: 2; stroke-linecap: square"/></g><g id="patch_8"><path d="M 450.36 284.04 L 450.36 32.76" style="fill: none; stroke: #000000; stroke-width: 0.8; stroke-linejoin: miter; stroke-linecap: square"/></g><g id="patch_9"><path d="M 702.36 284.04 L 702.36 32.76" style="fill: none; stroke: #000000; stroke-width: 0.8; stroke-linejoin: miter; stroke-linecap: square"/></g><g id="patch_10"><path d="M 450.36 284.04 L 702.36 284.04" style="fill: none; stroke: #000000; stroke-width: 0.8; stroke-linejoin: miter; stroke-linecap: square"/></g><g id="patch_11"><path d="M 450.36 32.76 L 702.36 32.76" style="fill: none; stroke: #000000; stroke-width: 0.8; stroke-linejoin: miter; stroke-linecap: square"/></g><g id="text_26"><text class="tx" x="534.9478" y="26.2099" font-size="12">True Vel. map</text><g transform="translate(534.9478 26.2099) scale(0.12 -0.12)"><defs><path id="DejaVuSans-56" d="M 1831 0 L 50 4666 L 709 4666 L 2188 738 L 3669 4666 L 4325 4666 L 2547 0 L 1831 0 z " transform="scale(0.015625)"/><path id="DejaVuSans-2e" d="M 684 794 L 1344 794 L 1344 0 L 684 0 L 684 794 z " transform="scale(0.015625)"/></defs><use href="#DejaVuSans-54"/><use href="#DejaVuSans-72" transform="translate(46.333984 0)"/><use href="#DejaVuSans-75" transform="translate(87.447266 0)"/><use href="#DejaVuSans-65" transform="translate(150.826172 0)"/><use href="#DejaVuSans-20" transform="translate(212.349609 0)"/><use href="#DejaVuSans-56" transform="translate(244.136719 0)"/><use href="#DejaVuSans-65" transform="translate(304.794922 0)"/><use href="#DejaVuSans-6c" transform="translate(366.318359 0)"/><use href="#DejaVuSans-2e" transform="translate(394.101562 0)"/><use href="#DejaVuSans-20" transform="translate(425.888672 0)"/><use href="#DejaVuSans-6d" transform="translate(457.675781 0)"/><use href="#DejaVuSans-61" transform="translate(555.087891 0)"/><use href="#DejaVuSans-70" transform="translate(616.367188 0)"/></g></g></g><g id="axes_3"><g id="patch_12"><path d="M 824.710345 283.77931 L 1076.089655 283.77931 L 1076.089655 32.4 L 824.710345 32.4 z " style="fill: #ffffff"/></g><g clip-path="url(#p4e08dcdfab)"><g class="img" transform="scale(0.72)" shape-rendering="crispEdges"><rect x="1313" y="170" width="14" height="14" fill="#0000a8"/><rect x="1327" y="170" width="14" height="14" fill="#0000cd"/><rect x="1341" y="170" width="14" height="14" fill="#0000c4"/><rect x="1313" y="184" width="14" height="14" fill="#0000f0"/><rect x="1327" y="184" width="14" height="14" fill="#ffda00"/><rect x="1341" y="184" width="14" height="14" fill="#0000cd"/><rect x="1327" y="198" width="14" height="14" fill="#0098ff"/><rect x="1341" y="198" width="14" height="14" fill="#0000b2"/><rect x="1299" y="212" width="14" height="14" fill="#0000aa"/><rect x="1313" y="212" width="14" height="14" fill="#0000c4"/><rect x="1313" y="226" width="14" height="14" fill="#0000a0"/></g></g><g id="matplotlib.axis_5"><g id="xtick_11"><g id="line2d_29"><g><use href="#m1504cfccaf" x="858.6" y="284.04" style="stroke: #000000; stroke-width: 0.8"/></g></g><g id="text_27"><text class="tx" x="850.9871" y="298.8103" font-size="10">−2</text><g transform="translate(850.9871 298.8103) scale(0.1 -0.1)"><use href="#DejaVuSans-2212"/><use href="#DejaVuSans-32" transform="translate(76.5891 0)"/></g></g></g><g id="xtick_12"><g id="line2d_30"><g><use href="#m1504cfccaf" x="909" y="284.04" style="stroke: #000000; stroke-width: 0.8"/></g></g><g id="text_28"><text class="tx" x="901.3784" y="298.8021" font-size="10">−1</text><g transform="translate(901.3784 298.8021) scale(0.1 -0.1)"><use href="#DejaVuSans-2212"/><use href="#DejaVuSans-31" transform="translate(76.5891 0)"/></g></g></g><g id="xtick_13"><g id="line2d_31"><g><use href="#m1504cfccaf" x="959.4" y="284.04" style="stroke: #000000; stroke-width: 0.8"/></g></g><g id="text_29"><text class="tx" x="956.092" y="298.938" font-size="10">0</text><g transform="translate(956.092 298.938) scale(0.1 -0.1)"><use href="#DejaVuSans-30"/></g></g></g><g id="xtick_14"><g id="line2d_32"><g><use href="#m1504cfccaf" x="1009.08" y="284.04" style="stroke: #000000; stroke-width: 0.8"/></g></g><g id="text_30"><text class="tx" x="1006.583" y="298.8172" font-size="10">1</text><g transform="translate(1006.583 298.8172) scale(0.1 -0.1)"><use href="#DejaVuSans-31"/></g></g></g><g id="xtick_15"><g id="line2d_33"><g><use href="#m1504cfccaf" x="1059.48" y="284.04" style="stroke: #000000; stroke-width: 0.8"/></g></g><g id="text_31"><text class="tx" x="1056.2195" y="298.8439" font-size="10">2</text><g transform="translate(1056.2195 298.8439) scale(0.1 -0.1)"><use href="#DejaVuSans-32"/></g></g></g><g id="text_32"><text class="tx" x="937.83" y="313.8754" font-size="10">Δα(")</text><g transform="translate(937.83 313.8754) scale(0.1 -0.1)"><use href="#DejaVuSans-394" transform="translate(0 0.125)"/><use href="#DejaVuSans-Oblique-3b1" transform="translate(68.408203 0.125)"/><use href="#DejaVuSans-28" transform="translate(134.326172 0.125)"/><use href="#DejaVuSans-22" transform="translate(173.339844 0.125)"/><use href="#DejaVuSans-29" transform="translate(219.335938 0.125)"/></g></g></g><g id="matplotlib.axis_6"><g id="ytick_11"><g id="line2d_34"><g><use href="#m5d545ce8f8" x="824.76" y="243" style="stroke: #000000; stroke-width: 0.8"/></g></g><g id="text_33"><text class="tx" x="803.4673" y="246.9727" font-size="10">−2</text><g transform="translate(803.4673 246.9727) scale(0.1 -0.1)"><use href="#DejaVuSans-2212"/><use href="#DejaVuSans-32" transform="translate(76.5891 0)"/></g></g></g><g id="ytick_12"><g id="line2d_35"><g><use href="#m5d545ce8f8" x="824.76" y="192.6" style="stroke: #000000; stroke-width: 0.8"/></g></g><g id="text_34"><text class="tx" x="803.4635" y="196.5376" font-size="10">−1</text><g transform="translate(803.4635 196.5376) scale(0.1 -0.1)"><use href="#DejaVuSans-2212"/><use href="#DejaVuSans-31" transform="translate(76.5891 0)"/></g></g></g><g id="ytick_13"><g id="line2d_36"><g><use href="#m5d545ce8f8" x="824.76" y="142.92" style="stroke: #000000; stroke-width: 0.8"/></g></g><g id="text_35"><text class="tx" x="812.1203" y="146.2975" font-size="10">0</text><g transform="translate(812.1203 146.2975) scale(0.1 -0.1)"><use href="#DejaVuSans-30"/></g></g></g><g id="ytick_14"><g id="line2d_37"><g><use href="#m5d545ce8f8" x="824.76" y="92.52" style="stroke: #000000; stroke-width: 0.8"/></g></g><g id="text_36"><text class="tx" x="811.4605" y="95.7612" font-size="10">1</text><g transform="translate(811.4605 95.7612) scale(0.1 -0.1)"><use href="#DejaVuSans-31"/></g></g></g><g id="ytick_15"><g id="line2d_38"><g><use href="#m5d545ce8f8" x="824.76" y="42.12" style="stroke: #000000; stroke-width: 0.8"/></g></g><g id="text_37"><text class="tx" x="811.4025" y="45.3669" font-size="10">2</text><g transform="translate(811.4025 45.3669) scale(0.1 -0.1)"><use href="#DejaVuSans-32"/></g></g></g><g id="text_38"><text class="tx" x="796.3323" y="171.7764" font-size="10" transform="rotate(-90 796.3323 171.7764)">Δδ(")</text><g transform="translate(796.3323 171.7764) rotate(-90) scale(0.1 -0.1)"><use href="#DejaVuSans-394" transform="translate(0 0.125)"/><use href="#DejaVuSans-Oblique-3b4" transform="translate(68.408203 0.125)"/><use href="#DejaVuSans-28" transform="translate(129.589844 0.125)"/><use href="#DejaVuSans-22" transform="translate(168.603516 0.125)"/><use href="#DejaVuSans-29" transform="translate(214.599609 0.125)"/></g></g></g><g id="line2d_39"><path d="M 824.76 142.92 L 1076.76 142.92" clip-path="url(#p4e08dcdfab)" style="fill: none; stroke: #000000; stroke-opacity: 0.5; stroke-linecap: square"/></g><g id="line2d_40"><path d="M 959.4 284.04 L 959.4 32.76" clip-path="url(#p4e08dcdfab)" style="fill: none; stroke: #000000; stroke-opacity: 0.5; stroke-linecap: square"/></g><g id="line2d_41"><path d="M 885.172785 228.679907 L 1014.211492 28.451029 " clip-path="url(#p4e08dcdfab)" style="fill: none; stroke: #808080; stroke-opacity: 0.6; stroke-width: 2; stroke-linecap: square"/></g><g id="line2d_42"><path d="M 910.528912 245.020815 L 1039.567618 44.791937 " clip-path="url(#p4e08dcdfab)" style="fill: none; stroke: #808080; stroke-opacity: 0.6; stroke-width: 2; stroke-linecap: square"/></g><g id="patch_13"><path d="M 824.76 284.04 L 824.76 32.76" style="fill: none; stroke: #000000; stroke-width: 0.8; stroke-linejoin: miter; stroke-linecap: square"/></g><g id="patch_14"><path d="M 1076.76 284.04 L 1076.76 32.76" style="fill: none; stroke: #000000; stroke-width: 0.8; stroke-linejoin: miter; stroke-linecap: square"/></g><g id="patch_15"><path d="M 824.76 284.04 L 1076.76 284.04" style="fill: none; stroke: #000000; stroke-width: 0.8; stroke-linejoin: miter; stroke-linecap: square"/></g><g id="patch_16"><path d="M 824.76 32.76 L 1076.76 32.76" style="fill: none; stroke: #000000; stroke-width: 0.8; stroke-linejoin: miter; stroke-linecap: square"/></g><g id="text_39"><text class="tx" x="905.7803" y="26.2153" font-size="12">True Disp. map</text><g transform="translate(905.7803 26.2153) scale(0.12 -0.12)"><defs><path id="DejaVuSans-44" d="M 1259 4147 L 1259 519 L 2022 519 Q 2988 519 3436 956 Q 3884 1394 3884 2338 Q 3884 3275 3436 3711 Q 2988 4147 2022 4147 L 1259 4147 z M 628 4666 L 1925 4666 Q 3281 4666 3915 4102 Q 4550 3538 4550 2338 Q 4550 1131 3912 565 Q 3275 0 1925 0 L 628 0 L 628 4666 z " transform="scale(0.015625)"/><path id="DejaVuSans-69" d="M 603 3500 L 1178 3500 L 1178 0 L 603 0 L 603 3500 z M 603 4863 L 1178 4863 L 1178 4134 L 603 4134 L 603 4863 z " transform="scale(0.015625)"/><path id="DejaVuSans-73" d="M 2834 3397 L 2834 2853 Q 2591 2978 2328 3040 Q 2066 3103 1784 3103 Q 1356 3103 1142 2972 Q 928 2841 928 2578 Q 928 2378 1081 2264 Q 1234 2150 1697 2047 L 1894 2003 Q 2506 1872 2764 1633 Q 3022 1394 3022 966 Q 3022 478 2636 193 Q 2250 -91 1575 -91 Q 1294 -91 989 -36 Q 684 19 347 128 L 347 722 Q 666 556 975 473 Q 1284 391 1588 391 Q 1994 391 2212 530 Q 2431 669 2431 922 Q 2431 1156 2273 1281 Q 2116 1406 1581 1522 L 1381 1569 Q 847 1681 609 1914 Q 372 2147 372 2553 Q 372 3047 722 3315 Q 1072 3584 1716 3584 Q 2034 3584 2315 3537 Q 2597 3491 2834 3397 z " transform="scale(0.015625)"/></defs><use href="#DejaVuSans-54"/><use href="#DejaVuSans-72" transform="translate(46.333984 0)"/><use href="#DejaVuSans-75" transform="translate(87.447266 0)"/><use href="#DejaVuSans-65" transform="translate(150.826172 0)"/><use href="#DejaVuSans-20" transform="translate(212.349609 0)"/><use href="#DejaVuSans-44" transform="translate(244.136719 0)"/><use href="#DejaVuSans-69" transform="translate(321.138672 0)"/><use href="#DejaVuSans-73" transform="translate(348.921875 0)"/><use href="#DejaVuSans-70" transform="translate(401.021484 0)"/><use href="#DejaVuSans-2e" transform="translate(464.498047 0)"/><use href="#DejaVuSans-20" transform="translate(496.285156 0)"/><use href="#DejaVuSans-6d" transform="translate(528.072266 0)"/><use href="#DejaVuSans-61" transform="translate(625.484375 0)"/><use href="#DejaVuSans-70" transform="translate(686.763672 0)"/></g></g></g><g id="axes_4"><g id="patch_17"><path d="M 57.6 615.6 L 345.6 615.6 L 345.6 364.22069 L 57.6 364.22069 z " style="fill: #ffffff"/></g><g id="matplotlib.axis_7"><g id="xtick_16"><g id="line2d_43"><g><use href="#m1504cfccaf" x="57.96" y="615.96" style="stroke: #000000; stroke-width: 0.8"/></g></g><g id="text_40"><text class="tx" x="50.3867" y="630.7375" font-size="10">−3</text><g transform="translate(50.3867 630.7375) scale(0.1 -0.1)"><defs><path id="DejaVuSans-33" d="M 2597 2516 Q 3050 2419 3304 2112 Q 3559 1806 3559 1356 Q 3559 666 3084 287 Q 2609 -91 1734 -91 Q 1441 -91 1130 -33 Q 819 25 488 141 L 488 750 Q 750 597 1062 519 Q 1375 441 1716 441 Q 2309 441 2620 675 Q 2931 909 2931 1356 Q 2931 1769 2642 2001 Q 2353 2234 1838 2234 L 1294 2234 L 1294 2753 L 1863 2753 Q 2328 2753 2575 2939 Q 2822 3125 2822 3475 Q 2822 3834 2567 4026 Q 2313 4219 1838 4219 Q 1578 4219 1281 4162 Q 984 4106 628 3988 L 628 4550 Q 988 4650 1302 4700 Q 1616 4750 1894 4750 Q 2613 4750 3031 4423 Q 3450 4097 3450 3541 Q 3450 3153 3228 2886 Q 3006 2619 2597 2516 z " transform="scale(0.015625)"/></defs><use href="#DejaVuSans-2212"/><use href="#DejaVuSans-33" transform="translate(76.5891 0)"/></g></g></g><g id="xtick_17"><g id="line2d_44"><g><use href="#m1504cfccaf" x="106.2" y="615.96" style="stroke: #000000; stroke-width: 0.8"/></g></g><g id="text_41"><text class="tx" x="98.5896" y="630.7089" font-size="10">−2</text><g transform="translate(98.5896 630.7089) scale(0.1 -0.1)"><use href="#DejaVuSans-2212"/><use href="#DejaVuSans-32" transform="translate(76.5891 0)"/></g></g></g><g id="xtick_18"><g id="line2d_45"><g><use href="#m1504cfccaf" x="153.72" y="615.96" style="stroke: #000000; stroke-width: 0.8"/></g></g><g id="text_42"><text class="tx" x="146.8219" y="630.7223" font-size="10">−1</text><g transform="translate(146.8219 630.7223) scale(0.1 -0.1)"><use href="#DejaVuSans-2212"/><use href="#DejaVuSans-31" transform="translate(76.5891 0)"/></g></g></g><g id="xtick_19"><g id="line2d_46"><g><use href="#m1504cfccaf" x="201.96" y="615.96" style="stroke: #000000; stroke-width: 0.8"/></g></g><g id="text_43"><text class="tx" x="198.6768" y="630.8857" font-size="10">0</text><g transform="translate(198.6768 630.8857) scale(0.1 -0.1)"><use href="#DejaVuSans-30"/></g></g></g><g id="xtick_20"><g id="line2d_47"><g><use href="#m1504cfccaf" x="250.2" y="615.96" style="stroke: #000000; stroke-width: 0.8"/></g></g><g id="text_44"><text class="tx" x="246.9801" y="630.7325" font-size="10">1</text><g transform="translate(246.9801 630.7325) scale(0.1 -0.1)"><use href="#DejaVuSans-31"/></g></g></g><g id="xtick_21"><g id="line2d_48"><g><use href="#m1504cfccaf" x="297.72" y="615.96" style="stroke: #000000; stroke-width: 0.8"/></g></g><g id="text_45"><text class="tx" x="294.4162" y="630.7068" font-size="10">2</text><g transform="translate(294.4162 630.7068) scale(0.1 -0.1)"><use href="#DejaVuSans-32"/></g></g></g><g id="xtick_22"><g id="line2d_49"><g><use href="#m1504cfccaf" x="345.96" y="615.96" style="stroke: #000000; stroke-width: 0.8"/></g></g><g id="text_46"><text class="tx" x="342.7011" y="630.7416" font-size="10">3</text><g transform="translate(342.7011 630.7416) scale(0.1 -0.1)"><use href="#DejaVuSans-33"/></g></g></g><g id="text_47"><text class="tx" x="195.8327" y="644.3767" font-size="10">δx</text><g transform="translate(195.8327 644.3767) scale(0.1 -0.1)"><defs><path id="DejaVuSans-Oblique-78" d="M 3841 3500 L 2234 1784 L 3219 0 L 2559 0 L 1819 1388 L 531 0 L -166 0 L 1556 1844 L 641 3500 L 1300 3500 L 1972 2234 L 3144 3500 L 3841 3500 z " transform="scale(0.015625)"/></defs><use href="#DejaVuSans-Oblique-3b4" transform="translate(0 0.78125)"/><use href="#DejaVuSans-Oblique-78" transform="translate(61.181641 0.78125)"/></g></g></g><g id="matplotlib.axis_8"><g id="ytick_16"><g id="line2d_50"><g><use href="#m5d545ce8f8" x="57.96" y="612.36" style="stroke: #000000; stroke-width: 0.8"/></g></g><g id="text_48"><text class="tx" x="35.9458" y="616.2903" font-size="10">−2</text><g transform="translate(35.9458 616.2903) scale(0.1 -0.1)"><use href="#DejaVuSans-2212"/><use href="#DejaVuSans-32" transform="translate(76.5891 0)"/></g></g></g><g id="ytick_17"><g id="line2d_51"><g><use href="#m5d545ce8f8" x="57.96" y="559.08" style="stroke: #000000; stroke-width: 0.8"/></g></g><g id="text_49"><text class="tx" x="35.9474" y="563.0171" font-size="10">−1</text><g transform="translate(35.9474 563.0171) scale(0.1 -0.1)"><use href="#DejaVuSans-2212"/><use href="#DejaVuSans-31" transform="translate(76.5891 0)"/></g></g></g><g id="ytick_18"><g id="line2d_52"><g><use href="#m5d545ce8f8" x="57.96" y="505.8" style="stroke: #000000; stroke-width: 0.8"/></g></g><g id="text_50"><text class="tx" x="44.5944" y="509.8235" font-size="10">0</text><g transform="translate(44.5944 509.8235) scale(0.1 -0.1)"><use href="#DejaVuSans-30"/></g></g></g><g id="ytick_19"><g id="line2d_53"><g><use href="#m5d545ce8f8" x="57.96" y="452.52" style="stroke: #000000; stroke-width: 0.8"/></g></g><g id="text_51"><text class="tx" x="44.6618" y="456.4982" font-size="10">1</text><g transform="translate(44.6618 456.4982) scale(0.1 -0.1)"><use href="#DejaVuSans-31"/></g></g></g><g id="ytick_20"><g id="line2d_54"><g><use href="#m5d545ce8f8" x="57.96" y="399.24" style="stroke: #000000; stroke-width: 0.8"/></g></g><g id="text_52"><text class="tx" x="44.6084" y="403.2189" font-size="10">2</text><g transform="translate(44.6084 403.2189) scale(0.1 -0.1)"><use href="#DejaVuSans-32"/></g></g></g><g id="text_53"><text class="tx" x="28.6715" y="507.6211" font-size="10" transform="rotate(-90 28.6715 507.6211)">log I(r)</text><g transform="translate(28.6715 507.6211) rotate(-90) scale(0.1 -0.1)"><defs><path id="DejaVuSans-6f" d="M 1959 3097 Q 1497 3097 1228 2736 Q 959 2375 959 1747 Q 959 1119 1226 758 Q 1494 397 1959 397 Q 2419 397 2687 759 Q 2956 1122 2956 1747 Q 2956 2369 2687 2733 Q 2419 3097 1959 3097 z M 1959 3584 Q 2709 3584 3137 3096 Q 3566 2609 3566 1747 Q 3566 888 3137 398 Q 2709 -91 1959 -91 Q 1206 -91 779 398 Q 353 888 353 1747 Q 353 2609 779 3096 Q 1206 3584 1959 3584 z " transform="scale(0.015625)"/><path id="DejaVuSans-67" d="M 2906 1791 Q 2906 2416 2648 2759 Q 2391 3103 1925 3103 Q 1463 3103 1205 2759 Q 947 2416 947 1791 Q 947 1169 1205 825 Q 1463 481 1925 481 Q 2391 481 2648 825 Q 2906 1169 2906 1791 z M 3481 434 Q 3481 -459 3084 -895 Q 2688 -1331 1869 -1331 Q 1566 -1331 1297 -1286 Q 1028 -1241 775 -1147 L 775 -588 Q 1028 -725 1275 -790 Q 1522 -856 1778 -856 Q 2344 -856 2625 -561 Q 2906 -266 2906 331 L 2906 616 Q 2728 306 2450 153 Q 2172 0 1784 0 Q 1141 0 747 490 Q 353 981 353 1791 Q 353 2603 747 3093 Q 1141 3584 1784 3584 Q 2172 3584 2450 3431 Q 2728 3278 2906 2969 L 2906 3500 L 3481 3500 L 3481 434 z " transform="scale(0.015625)"/><path id="DejaVuSans-49" d="M 628 4666 L 1259 4666 L 1259 0 L 628 0 L 628 4666 z " transform="scale(0.015625)"/></defs><use href="#DejaVuSans-6c"/><use href="#DejaVuSans-6f" transform="translate(27.783203 0)"/><use href="#DejaVuSans-67" transform="translate(88.964844 0)"/><use href="#DejaVuSans-20" transform="translate(152.441406 0)"/><use href="#DejaVuSans-49" transform="translate(184.228516 0)"/><use href="#DejaVuSans-28" transform="translate(213.720703 0)"/><use href="#DejaVuSans-72" transform="translate(252.734375 0)"/><use href="#DejaVuSans-29" transform="translate(293.847656 0)"/></g></g></g><g id="line2d_55"><path d="M 65.52 620.639999 L 78.12 555.192012 L 89.64 564.62401 L 96.624 588.384005 L 108.216 531.576017 L 118.008 523.728018 L 130.104 563.32801 L 134.064 529.848017 L 147.24 485.136026 L 154.368 494.064024 L 165.816 489.816025 L 175.716 433.656036 L 185.904 428.760037 L 193.464 433.656036 L 203.184 370.368048 L 214.74 407.232041 L 221.832 451.224032 L 235.08 465.62403 L 241.2 463.82403 L 251.28 490.824025 L 260.928 538.632015 L 272.376 505.368022 L 279.216 515.01602 L 291.024 574.272008 L 302.4 537.840015 " clip-path="url(#p82e4da5950)" style="fill: none; stroke: #000000; stroke-width: 1.5; stroke-linecap: square"/></g><g id="patch_18"><path d="M 57.96 615.96 L 57.96 364.68" style="fill: none; stroke: #000000; stroke-width: 0.8; stroke-linejoin: miter; stroke-linecap: square"/></g><g id="patch_19"><path d="M 345.96 615.96 L 345.96 364.68" style="fill: none; stroke: #000000; stroke-width: 0.8; stroke-linejoin: miter; stroke-linecap: square"/></g><g id="patch_20"><path d="M 57.96 615.96 L 345.96 615.96" style="fill: none; stroke: #000000; stroke-width: 0.8; stroke-linejoin: miter; stroke-linecap: square"/></g><g id="patch_21"><path d="M 57.96 364.68 L 345.96 364.68" style="fill: none; stroke: #000000; stroke-width: 0.8; stroke-linejoin: miter; stroke-linecap: square"/></g></g><g id="axes_5"><g id="patch_22"><path d="M 432 615.6 L 720 615.6 L 720 364.22069 L 432 364.22069 z " style="fill: #ffffff"/></g><g id="matplotlib.axis_9"><g id="xtick_23"><g id="line2d_56"><g><use href="#m1504cfccaf" x="432.36" y="615.96" style="stroke: #000000; stroke-width: 0.8"/></g></g><g id="text_54"><text class="tx" x="424.7826" y="630.7397" font-size="10">−3</text><g transform="translate(424.7826 630.7397) scale(0.1 -0.1)"><use href="#DejaVuSans-2212"/><use href="#DejaVuSans-33" transform="translate(76.5891 0)"/></g></g></g><g id="xtick_24"><g id="line2d_57"><g><use href="#m1504cfccaf" x="480.6" y="615.96" style="stroke: #000000; stroke-width: 0.8"/></g></g><g id="text_55"><text class="tx" x="472.9906" y="630.7093" font-size="10">−2</text><g transform="translate(472.9906 630.7093) scale(0.1 -0.1)"><use href="#DejaVuSans-2212"/><use href="#DejaVuSans-32" transform="translate(76.5891 0)"/></g></g></g><g id="xtick_25"><g id="line2d_58"><g><use href="#m1504cfccaf" x="528.12" y="615.96" style="stroke: #000000; stroke-width: 0.8"/></g></g><g id="text_56"><text class="tx" x="521.2219" y="630.7223" font-size="10">−1</text><g transform="translate(521.2219 630.7223) scale(0.1 -0.1)"><use href="#DejaVuSans-2212"/><use href="#DejaVuSans-31" transform="translate(76.5891 0)"/></g></g></g><g id="xtick_26"><g id="line2d_59"><g><use href="#m1504cfccaf" x="576.36" y="615.96" style="stroke: #000000; stroke-width: 0.8"/></g></g><g id="text_57"><text class="tx" x="573.0778" y="630.907" font-size="10">0</text><g transform="translate(573.0778 630.907) scale(0.1 -0.1)"><use href="#DejaVuSans-30"/></g></g></g><g id="xtick_27"><g id="line2d_60"><g><use href="#m1504cfccaf" x="624.6" y="615.96" style="stroke: #000000; stroke-width: 0.8"/></g></g><g id="text_58"><text class="tx" x="621.3801" y="630.7325" font-size="10">1</text><g transform="translate(621.3801 630.7325) scale(0.1 -0.1)"><use href="#DejaVuSans-31"/></g></g></g><g id="xtick_28"><g id="line2d_61"><g><use href="#m1504cfccaf" x="672.12" y="615.96" style="stroke: #000000; stroke-width: 0.8"/></g></g><g id="text_59"><text class="tx" x="668.8489" y="630.7464" font-size="10">2</text><g transform="translate(668.8489 630.7464) scale(0.1 -0.1)"><use href="#DejaVuSans-32"/></g></g></g><g id="xtick_29"><g id="line2d_62"><g><use href="#m1504cfccaf" x="720.36" y="615.96" style="stroke: #000000; stroke-width: 0.8"/></g></g><g id="text_60"><text class="tx" x="717.1011" y="630.7416" font-size="10">3</text><g transform="translate(717.1011 630.7416) scale(0.1 -0.1)"><use href="#DejaVuSans-33"/></g></g></g><g id="text_61"><text class="tx" x="570.2327" y="644.3767" font-size="10">δx</text><g transform="translate(570.2327 644.3767) scale(0.1 -0.1)"><use href="#DejaVuSans-Oblique-3b4" transform="translate(0 0.78125)"/><use href="#DejaVuSans-Oblique-78" transform="translate(61.181641 0.78125)"/></g></g></g><g id="matplotlib.axis_10"><g id="ytick_21"><g id="line2d_63"><g><use href="#m5d545ce8f8" x="432.36" y="585" style="stroke: #000000; stroke-width: 0.8"/></g></g><g id="text_62"><text class="tx" x="403.8924" y="588.2498" font-size="10">−60</text><g transform="translate(403.8924 588.2498) scale(0.1 -0.1)"><defs><path id="DejaVuSans-36" d="M 2113 2584 Q 1688 2584 1439 2293 Q 1191 2003 1191 1497 Q 1191 994 1439 701 Q 1688 409 2113 409 Q 2538 409 2786 701 Q 3034 994 3034 1497 Q 3034 2003 2786 2293 Q 2538 2584 2113 2584 z M 3366 4563 L 3366 3988 Q 3128 4100 2886 4159 Q 2644 4219 2406 4219 Q 1781 4219 1451 3797 Q 1122 3375 1075 2522 Q 1259 2794 1537 2939 Q 1816 3084 2150 3084 Q 2853 3084 3261 2657 Q 3669 2231 3669 1497 Q 3669 778 3244 343 Q 2819 -91 2113 -91 Q 1303 -91 875 529 Q 447 1150 447 2328 Q 447 3434 972 4092 Q 1497 4750 2381 4750 Q 2619 4750 2861 4703 Q 3103 4656 3366 4563 z " transform="scale(0.015625)"/></defs><use href="#DejaVuSans-2212"/><use href="#DejaVuSans-36" transform="translate(76.5891 0)"/><use href="#DejaVuSans-30" transform="translate(140.2121 0)"/></g></g></g><g id="ytick_22"><g id="line2d_64"><g><use href="#m5d545ce8f8" x="432.36" y="553.32" style="stroke: #000000; stroke-width: 0.8"/></g></g><g id="text_63"><text class="tx" x="404.5867" y="557.2644" font-size="10">−40</text><g transform="translate(404.5867 557.2644) scale(0.1 -0.1)"><defs><path id="DejaVuSans-34" d="M 2419 4116 L 825 1625 L 2419 1625 L 2419 4116 z M 2253 4666 L 3047 4666 L 3047 1625 L 3713 1625 L 3713 1100 L 3047 1100 L 3047 0 L 2419 0 L 2419 1100 L 313 1100 L 313 1709 L 2253 4666 z " transform="scale(0.015625)"/></defs><use href="#DejaVuSans-2212"/><use href="#DejaVuSans-34" transform="translate(76.5891 0)"/><use href="#DejaVuSans-30" transform="translate(140.2121 0)"/></g></g></g><g id="ytick_23"><g id="line2d_65"><g><use href="#m5d545ce8f8" x="432.36" y="521.64" style="stroke: #000000; stroke-width: 0.8"/></g></g><g id="text_64"><text class="tx" x="404.5294" y="525.6021" font-size="10">−20</text><g transform="translate(404.5294 525.6021) scale(0.1 -0.1)"><use href="#DejaVuSans-2212"/><use href="#DejaVuSans-32" transform="translate(76.5891 0)"/><use href="#DejaVuSans-30" transform="translate(140.2121 0)"/></g></g></g><g id="ytick_24"><g id="line2d_66"><g><use href="#m5d545ce8f8" x="432.36" y="489.96" style="stroke: #000000; stroke-width: 0.8"/></g></g><g id="text_65"><text class="tx" x="418.9982" y="494.0619" font-size="10">0</text><g transform="translate(418.9982 494.0619) scale(0.1 -0.1)"><use href="#DejaVuSans-30"/></g></g></g><g id="ytick_25"><g id="line2d_67"><g><use href="#m5d545ce8f8" x="432.36" y="459" style="stroke: #000000; stroke-width: 0.8"/></g></g><g id="text_66"><text class="tx" x="412.5023" y="462.3319" font-size="10">20</text><g transform="translate(412.5023 462.3319) scale(0.1 -0.1)"><use href="#DejaVuSans-32"/><use href="#DejaVuSans-30" transform="translate(63.623047 0)"/></g></g></g><g id="ytick_26"><g id="line2d_68"><g><use href="#m5d545ce8f8" x="432.36" y="427.32" style="stroke: #000000; stroke-width: 0.8"/></g></g><g id="text_67"><text class="tx" x="412.5325" y="430.5411" font-size="10">40</text><g transform="translate(412.5325 430.5411) scale(0.1 -0.1)"><use href="#DejaVuSans-34"/><use href="#DejaVuSans-30" transform="translate(56.423 0)"/></g></g></g><g id="ytick_27"><g id="line2d_69"><g><use href="#m5d545ce8f8" x="432.36" y="395.64" style="stroke: #000000; stroke-width: 0.8"/></g></g><g id="text_68"><text class="tx" x="412.5396" y="398.8642" font-size="10">60</text><g transform="translate(412.5396 398.8642) scale(0.1 -0.1)"><use href="#DejaVuSans-36"/><use href="#DejaVuSans-30" transform="translate(63.623047 0)"/></g></g></g><g id="text_69"><text class="tx" x="395.1173" y="505.5833" font-size="10" transform="rotate(-90 395.1173 505.5833)">Vlos(x)</text><g transform="translate(395.1173 505.5833) rotate(-90) scale(0.1 -0.1)"><defs><path id="DejaVuSans-Oblique-56" d="M 1319 0 L 500 4666 L 1119 4666 L 1797 653 L 4063 4666 L 4750 4666 L 2053 0 L 1319 0 z " transform="scale(0.015625)"/><path id="DejaVuSans-Oblique-6c" d="M 1172 4863 L 1747 4863 L 800 0 L 225 0 L 1172 4863 z " transform="scale(0.015625)"/><path id="DejaVuSans-Oblique-6f" d="M 1625 -91 Q 1009 -91 651 289 Q 294 669 294 1325 Q 294 1706 417 2101 Q 541 2497 738 2766 Q 1047 3184 1428 3384 Q 1809 3584 2291 3584 Q 2888 3584 3255 3212 Q 3622 2841 3622 2241 Q 3622 1825 3500 1412 Q 3378 1000 3181 728 Q 2875 309 2494 109 Q 2113 -91 1625 -91 z M 891 1344 Q 891 869 1089 633 Q 1288 397 1691 397 Q 2269 397 2648 901 Q 3028 1406 3028 2181 Q 3028 2634 2825 2865 Q 2622 3097 2228 3097 Q 1903 3097 1650 2945 Q 1397 2794 1197 2484 Q 1050 2253 970 1956 Q 891 1659 891 1344 z " transform="scale(0.015625)"/><path id="DejaVuSans-Oblique-73" d="M 3200 3397 L 3091 2853 Q 2863 2978 2609 3040 Q 2356 3103 2088 3103 Q 1634 3103 1373 2948 Q 1113 2794 1113 2528 Q 1113 2219 1719 2053 Q 1766 2041 1788 2034 L 1972 1978 Q 2547 1819 2739 1644 Q 2931 1469 2931 1166 Q 2931 609 2489 259 Q 2047 -91 1331 -91 Q 1053 -91 747 -37 Q 441 16 72 128 L 184 722 Q 500 559 806 475 Q 1113 391 1394 391 Q 1816 391 2080 572 Q 2344 753 2344 1031 Q 2344 1331 1650 1516 L 1591 1531 L 1394 1581 Q 956 1697 753 1886 Q 550 2075 550 2369 Q 550 2928 970 3256 Q 1391 3584 2113 3584 Q 2397 3584 2667 3537 Q 2938 3491 3200 3397 z " transform="scale(0.015625)"/></defs><use href="#DejaVuSans-Oblique-56" transform="translate(0 0.125)"/><use href="#DejaVuSans-Oblique-6c" transform="translate(68.408203 -16.28125) scale(0.7)"/><use href="#DejaVuSans-Oblique-6f" transform="translate(87.856445 -16.28125) scale(0.7)"/><use href="#DejaVuSans-Oblique-73" transform="translate(130.683594 -16.28125) scale(0.7)"/><use href="#DejaVuSans-28" transform="translate(169.887695 0.125)"/><use href="#DejaVuSans-Oblique-78" transform="translate(208.901367 0.125)"/><use href="#DejaVuSans-29" transform="translate(268.081055 0.125)"/></g></g></g><g id="line2d_70"><path d="M 439.92 647.999994 L 452.52 633.599996 L 464.04 627.839998 L 471.024 623.519998 L 482.616 620.639999 L 492.408 619.199999 L 504.504 617.76 L 508.464 616.752 L 521.64 609.120001 L 528.768 594.216004 L 540.216 576.216008 L 550.116 565.63201 L 560.304 544.032014 L 567.864 526.824018 L 577.584 471.456028 L 589.14 438.408035 L 596.232 425.736038 L 609.48 405.720041 L 615.6 401.328042 L 625.68 379.440047 L 635.328 366.336049 L 646.776 362.16005 L 653.616 358.560051 L 665.424 354.960051 L 676.8 351.360052 " clip-path="url(#p38ba75cb41)" style="fill: none; stroke: #000000; stroke-width: 1.5; stroke-linecap: square"/></g><g id="line2d_71"><path d="M 432 387.36 L 720 387.36" clip-path="url(#p38ba75cb41)" style="fill: none; stroke-dasharray: 5.55,2.4; stroke-dashoffset: 0; stroke: #000000; stroke-width: 1.5"/></g><g id="line2d_72"><path d="M 432 592.56 L 720 592.56" clip-path="url(#p38ba75cb41)" style="fill: none; stroke-dasharray: 5.55,2.4; stroke-dashoffset: 0; stroke: #000000; stroke-width: 1.5"/></g><g id="patch_23"><path d="M 432.36 615.96 L 432.36 364.68" style="fill: none; stroke: #000000; stroke-width: 0.8; stroke-linejoin: miter; stroke-linecap: square"/></g><g id="patch_24"><path d="M 720.36 615.96 L 720.36 364.68" style="fill: none; stroke: #000000; stroke-width: 0.8; stroke-linejoin: miter; stroke-linecap: square"/></g><g id="patch_25"><path d="M 432.36 615.96 L 720.36 615.96" style="fill: none; stroke: #000000; stroke-width: 0.8; stroke-linejoin: miter; stroke-linecap: square"/></g><g id="patch_26"><path d="M 432.36 364.68 L 720.36 364.68" style="fill: none; stroke: #000000; stroke-width: 0.8; stroke-linejoin: miter; stroke-linecap: square"/></g></g><g id="axes_6"><g id="patch_27"><path d="M 806.4 615.6 L 1094.4 615.6 L 1094.4 364.22069 L 806.4 364.22069 z " style="fill: #ffffff"/></g><g id="matplotlib.axis_11"><g id="xtick_30"><g id="line2d_73"><g><use href="#m1504cfccaf" x="806.76" y="615.96" style="stroke: #000000; stroke-width: 0.8"/></g></g><g id="text_70"><text class="tx" x="799.1867" y="630.7375" font-size="10">−3</text><g transform="translate(799.1867 630.7375) scale(0.1 -0.1)"><use href="#DejaVuSans-2212"/><use href="#DejaVuSans-33" transform="translate(76.5891 0)"/></g></g></g><g id="xtick_31"><g id="line2d_74"><g><use href="#m1504cfccaf" x="855" y="615.96" style="stroke: #000000; stroke-width: 0.8"/></g></g><g id="text_71"><text class="tx" x="847.3868" y="630.7186" font-size="10">−2</text><g transform="translate(847.3868 630.7186) scale(0.1 -0.1)"><use href="#DejaVuSans-2212"/><use href="#DejaVuSans-32" transform="translate(76.5891 0)"/></g></g></g><g id="xtick_32"><g id="line2d_75"><g><use href="#m1504cfccaf" x="902.52" y="615.96" style="stroke: #000000; stroke-width: 0.8"/></g></g><g id="text_72"><text class="tx" x="895.6219" y="630.7223" font-size="10">−1</text><g transform="translate(895.6219 630.7223) scale(0.1 -0.1)"><use href="#DejaVuSans-2212"/><use href="#DejaVuSans-31" transform="translate(76.5891 0)"/></g></g></g><g id="xtick_33"><g id="line2d_76"><g><use href="#m1504cfccaf" x="950.76" y="615.96" style="stroke: #000000; stroke-width: 0.8"/></g></g><g id="text_73"><text class="tx" x="947.4521" y="630.8589" font-size="10">0</text><g transform="translate(947.4521 630.8589) scale(0.1 -0.1)"><use href="#DejaVuSans-30"/></g></g></g><g id="xtick_34"><g id="line2d_77"><g><use href="#m1504cfccaf" x="999" y="615.96" style="stroke: #000000; stroke-width: 0.8"/></g></g><g id="text_74"><text class="tx" x="995.7801" y="630.7325" font-size="10">1</text><g transform="translate(995.7801 630.7325) scale(0.1 -0.1)"><use href="#DejaVuSans-31"/></g></g></g><g id="xtick_35"><g id="line2d_78"><g><use href="#m1504cfccaf" x="1046.52" y="615.96" style="stroke: #000000; stroke-width: 0.8"/></g></g><g id="text_75"><text class="tx" x="1043.216" y="630.7074" font-size="10">2</text><g transform="translate(1043.216 630.7074) scale(0.1 -0.1)"><use href="#DejaVuSans-32"/></g></g></g><g id="xtick_36"><g id="line2d_79"><g><use href="#m1504cfccaf" x="1094.76" y="615.96" style="stroke: #000000; stroke-width: 0.8"/></g></g><g id="text_76"><text class="tx" x="1091.5011" y="630.7402" font-size="10">3</text><g transform="translate(1091.5011 630.7402) scale(0.1 -0.1)"><use href="#DejaVuSans-33"/></g></g></g><g id="text_77"><text class="tx" x="944.6453" y="644.3685" font-size="10">δx</text><g transform="translate(944.6453 644.3685) scale(0.1 -0.1)"><use href="#DejaVuSans-Oblique-3b4" transform="translate(0 0.78125)"/><use href="#DejaVuSans-Oblique-78" transform="translate(61.181641 0.78125)"/></g></g></g><g id="matplotlib.axis_12"><g id="ytick_28"><g id="line2d_80"><g><use href="#m5d545ce8f8" x="806.76" y="615.96" style="stroke: #000000; stroke-width: 0.8"/></g></g><g id="text_78"><text class="tx" x="783.9912" y="619.262" font-size="10">0.0</text><g transform="translate(783.9912 619.262) scale(0.1 -0.1)"><use href="#DejaVuSans-30"/><use href="#DejaVuSans-2e" transform="translate(56.423 0)"/><use href="#DejaVuSans-30" transform="translate(88.2102 0)"/></g></g></g><g id="ytick_29"><g id="line2d_81"><g><use href="#m5d545ce8f8" x="806.76" y="586.44" style="stroke: #000000; stroke-width: 0.8"/></g></g><g id="text_79"><text class="tx" x="783.2696" y="590.3853" font-size="10">2.5</text><g transform="translate(783.2696 590.3853) scale(0.1 -0.1)"><defs><path id="DejaVuSans-35" d="M 691 4666 L 3169 4666 L 3169 4134 L 1269 4134 L 1269 2991 Q 1406 3038 1543 3061 Q 1681 3084 1819 3084 Q 2600 3084 3056 2656 Q 3513 2228 3513 1497 Q 3513 744 3044 326 Q 2575 -91 1722 -91 Q 1428 -91 1123 -41 Q 819 9 494 109 L 494 744 Q 775 591 1075 516 Q 1375 441 1709 441 Q 2250 441 2565 725 Q 2881 1009 2881 1497 Q 2881 1984 2565 2268 Q 2250 2553 1709 2553 Q 1456 2553 1204 2497 Q 953 2441 691 2322 L 691 4666 z " transform="scale(0.015625)"/></defs><use href="#DejaVuSans-32"/><use href="#DejaVuSans-2e" transform="translate(63.623047 0)"/><use href="#DejaVuSans-35" transform="translate(95.410156 0)"/></g></g></g><g id="ytick_30"><g id="line2d_82"><g><use href="#m5d545ce8f8" x="806.76" y="556.92" style="stroke: #000000; stroke-width: 0.8"/></g></g><g id="text_80"><text class="tx" x="783.3103" y="560.7733" font-size="10">5.0</text><g transform="translate(783.3103 560.7733) scale(0.1 -0.1)"><use href="#DejaVuSans-35"/><use href="#DejaVuSans-2e" transform="translate(56.423 0)"/><use href="#DejaVuSans-30" transform="translate(88.2102 0)"/></g></g></g><g id="ytick_31"><g id="line2d_83"><g><use href="#m5d545ce8f8" x="806.76" y="527.4" style="stroke: #000000; stroke-width: 0.8"/></g></g><g id="text_81"><text class="tx" x="783.9996" y="531.305" font-size="10">7.5</text><g transform="translate(783.9996 531.305) scale(0.1 -0.1)"><defs><path id="DejaVuSans-37" d="M 525 4666 L 3525 4666 L 3525 4397 L 1831 0 L 1172 0 L 2766 4134 L 525 4134 L 525 4666 z " transform="scale(0.015625)"/></defs><use href="#DejaVuSans-37"/><use href="#DejaVuSans-2e" transform="translate(56.423 0)"/><use href="#DejaVuSans-35" transform="translate(88.2102 0)"/></g></g></g><g id="ytick_32"><g id="line2d_84"><g><use href="#m5d545ce8f8" x="806.76" y="497.88" style="stroke: #000000; stroke-width: 0.8"/></g></g><g id="text_82"><text class="tx" x="777.5409" y="501.8527" font-size="10">10.0</text><g transform="translate(777.5409 501.8527) scale(0.1 -0.1)"><use href="#DejaVuSans-31"/><use href="#DejaVuSans-30" transform="translate(56.423 0)"/><use href="#DejaVuSans-2e" transform="translate(120.0461 0)"/><use href="#DejaVuSans-30" transform="translate(151.8332 0)"/></g></g></g><g id="ytick_33"><g id="line2d_85"><g><use href="#m5d545ce8f8" x="806.76" y="469.08" style="stroke: #000000; stroke-width: 0.8"/></g></g><g id="text_83"><text class="tx" x="777.5545" y="472.4333" font-size="10">12.5</text><g transform="translate(777.5545 472.4333) scale(0.1 -0.1)"><use href="#DejaVuSans-31"/><use href="#DejaVuSans-32" transform="translate(56.423 0)"/><use href="#DejaVuSans-2e" transform="translate(120.0461 0)"/><use href="#DejaVuSans-35" transform="translate(151.8332 0)"/></g></g></g><g id="ytick_34"><g id="line2d_86"><g><use href="#m5d545ce8f8" x="806.76" y="439.56" style="stroke: #000000; stroke-width: 0.8"/></g></g><g id="text_84"><text class="tx" x="777.5225" y="442.7517" font-size="10">15.0</text><g transform="translate(777.5225 442.7517) scale(0.1 -0.1)"><use href="#DejaVuSans-31"/><use href="#DejaVuSans-35" transform="translate(56.423 0)"/><use href="#DejaVuSans-2e" transform="translate(120.0461 0)"/><use href="#DejaVuSans-30" transform="translate(151.8332 0)"/></g></g></g><g id="ytick_35"><g id="line2d_87"><g><use href="#m5d545ce8f8" x="806.76" y="410.04" style="stroke: #000000; stroke-width: 0.8"/></g></g><g id="text_85"><text class="tx" x="777.5499" y="413.254" font-size="10">17.5</text><g transform="translate(777.5499 413.254) scale(0.1 -0.1)"><use href="#DejaVuSans-31"/><use href="#DejaVuSans-37" transform="translate(56.423 0)"/><use href="#DejaVuSans-2e" transform="translate(120.0461 0)"/><use href="#DejaVuSans-35" transform="translate(151.8332 0)"/></g></g></g><g id="ytick_36"><g id="line2d_88"><g><use href="#m5d545ce8f8" x="806.76" y="380.52" style="stroke: #000000; stroke-width: 0.8"/></g></g><g id="text_86"><text class="tx" x="777.4826" y="383.8634" font-size="10">20.0</text><g transform="translate(777.4826 383.8634) scale(0.1 -0.1)"><use href="#DejaVuSans-32"/><use href="#DejaVuSans-30" transform="translate(63.623047 0)"/><use href="#DejaVuSans-2e" transform="translate(127.246094 0)"/><use href="#DejaVuSans-30" transform="translate(159.033203 0)"/></g></g></g></g><g id="line2d_89"><path d="M 814.32 434.160036 L 826.92 433.980036 L 838.44 433.800036 L 845.424 433.656036 L 857.016 433.440036 L 866.808 433.224036 L 878.904 433.008036 L 882.864 432.936036 L 896.04 432.540036 L 903.168 432.252036 L 914.616 431.748036 L 924.516 431.064036 L 934.704 430.344037 L 942.264 421.416038 L 951.984 415.22404 L 963.54 428.976037 L 970.632 429.984037 L 983.88 431.856036 L 990 432.360036 L 1000.08 432.504036 L 1009.728 432.648036 L 1021.176 432.864036 L 1028.016 433.008036 L 1039.824 433.224036 L 1051.2 433.440036 " clip-path="url(#p0a88ba42f2)" style="fill: none; stroke: #000000; stroke-width: 1.5; stroke-linecap: square"/></g><g id="line2d_90"><path d="M 806.4 434.16 L 1094.4 434.16" clip-path="url(#p0a88ba42f2)" style="fill: none; stroke-dasharray: 9.6,2.4,1.5,2.4; stroke-dashoffset: 0; stroke: #1f77b4; stroke-width: 1.5"/></g><g id="patch_28"><path d="M 806.76 615.96 L 806.76 364.68" style="fill: none; stroke: #000000; stroke-width: 0.8; stroke-linejoin: miter; stroke-linecap: square"/></g><g id="patch_29"><path d="M 1094.76 615.96 L 1094.76 364.68" style="fill: none; stroke: #000000; stroke-width: 0.8; stroke-linejoin: miter; stroke-linecap: square"/></g><g id="patch_30"><path d="M 806.76 615.96 L 1094.76 615.96" style="fill: none; stroke: #000000; stroke-width: 0.8; stroke-linejoin: miter; stroke-linecap: square"/></g><g id="patch_31"><path d="M 806.76 364.68 L 1094.76 364.68" style="fill: none; stroke: #000000; stroke-width: 0.8; stroke-linejoin: miter; stroke-linecap: square"/></g><g id="legend_1"><g id="patch_32"><path d="M 1027.8 387.72 L 1087.56 387.72 Q 1089.72 387.72 1089.72 385.56 L 1089.72 371.88 Q 1089.72 369.72 1087.56 369.72 L 1027.8 369.72 Q 1026.36 369.72 1026.36 371.88 L 1026.36 385.56 Q 1026.36 387.72 1027.8 387.72 z" style="fill: #ffffff; opacity: 0.8; stroke: #cccccc; stroke-linejoin: miter"/></g><g id="line2d_91"><path d="M 1029.6 378 L 1039.68 378 L 1049.76 378" style="fill: none; stroke-dasharray: 9.6,2.4,1.5,2.4; stroke-dashoffset: 0; stroke: #1f77b4; stroke-width: 1.5"/></g><g id="text_87"><text class="tx" x="1057.7251" y="380.7789" font-size="10">Vturb</text><g transform="translate(1057.7251 380.7789) scale(0.1 -0.1)"><defs><path id="DejaVuSans-74" d="M 1172 4494 L 1172 3500 L 2356 3500 L 2356 3053 L 1172 3053 L 1172 1153 Q 1172 725 1289 603 Q 1406 481 1766 481 L 2356 481 L 2356 0 L 1766 0 Q 1100 0 847 248 Q 594 497 594 1153 L 594 3053 L 172 3053 L 172 3500 L 594 3500 L 594 4494 L 1172 4494 z " transform="scale(0.015625)"/><path id="DejaVuSans-62" d="M 3116 1747 Q 3116 2381 2855 2742 Q 2594 3103 2138 3103 Q 1681 3103 1420 2742 Q 1159 2381 1159 1747 Q 1159 1113 1420 752 Q 1681 391 2138 391 Q 2594 391 2855 752 Q 3116 1113 3116 1747 z M 1159 2969 Q 1341 3281 1617 3432 Q 1894 3584 2278 3584 Q 2916 3584 3314 3078 Q 3713 2572 3713 1747 Q 3713 922 3314 415 Q 2916 -91 2278 -91 Q 1894 -91 1617 61 Q 1341 213 1159 525 L 1159 0 L 581 0 L 581 4863 L 1159 4863 L 1159 2969 z " transform="scale(0.015625)"/></defs><use href="#DejaVuSans-56"/><use href="#DejaVuSans-74" transform="translate(61.2082 0)"/><use href="#DejaVuSans-75" transform="translate(100.4172 0)"/><use href="#DejaVuSans-72" transform="translate(163.7961 0)"/><use href="#DejaVuSans-62" transform="translate(204.9094 0)"/></g></g></g></g><g id="axes_7"><g id="patch_33"><path d="M 121.186207 62.537931 L 322.289655 62.537931 L 322.289655 37.4 L 121.186207 37.4 z " style="fill: #ffffff"/></g><g class="img" transform="scale(0.72)"><use href="#cbg" x="168" y="52.5"/></g><g id="matplotlib.axis_13"><g id="xtick_37"><g id="line2d_92"><g><use href="#m1504cfccaf" x="171.72" y="63" style="stroke: #000000; stroke-width: 0.8"/></g></g><g id="text_88"><text class="tx" x="161.9383" y="77.6807" font-size="10">245</text><g transform="translate(161.9383 77.6807) scale(0.1 -0.1)"><use href="#DejaVuSans-32"/><use href="#DejaVuSans-34" transform="translate(63.623047 0)"/><use href="#DejaVuSans-35" transform="translate(127.246094 0)"/></g></g></g><g id="xtick_38"><g id="line2d_93"><g><use href="#m1504cfccaf" x="222.12" y="63" style="stroke: #000000; stroke-width: 0.8"/></g></g><g id="text_89"><text class="tx" x="212.3824" y="77.7966" font-size="10">490</text><g transform="translate(212.3824 77.7966) scale(0.1 -0.1)"><defs><path id="DejaVuSans-39" d="M 703 97 L 703 672 Q 941 559 1184 500 Q 1428 441 1663 441 Q 2288 441 2617 861 Q 2947 1281 2994 2138 Q 2813 1869 2534 1725 Q 2256 1581 1919 1581 Q 1219 1581 811 2004 Q 403 2428 403 3163 Q 403 3881 828 4315 Q 1253 4750 1959 4750 Q 2769 4750 3195 4129 Q 3622 3509 3622 2328 Q 3622 1225 3098 567 Q 2575 -91 1691 -91 Q 1453 -91 1209 -44 Q 966 3 703 97 z M 1959 2075 Q 2384 2075 2632 2365 Q 2881 2656 2881 3163 Q 2881 3666 2632 3958 Q 2384 4250 1959 4250 Q 1534 4250 1286 3958 Q 1038 3666 1038 3163 Q 1038 2656 1286 2365 Q 1534 2075 1959 2075 z " transform="scale(0.015625)"/></defs><use href="#DejaVuSans-34"/><use href="#DejaVuSans-39" transform="translate(56.423 0)"/><use href="#DejaVuSans-30" transform="translate(120.0461 0)"/></g></g></g><g id="xtick_39"><g id="line2d_94"><g><use href="#m1504cfccaf" x="272.52" y="63" style="stroke: #000000; stroke-width: 0.8"/></g></g><g id="text_90"><text class="tx" x="262.7193" y="77.7311" font-size="10">735</text><g transform="translate(262.7193 77.7311) scale(0.1 -0.1)"><use href="#DejaVuSans-37"/><use href="#DejaVuSans-33" transform="translate(56.423 0)"/><use href="#DejaVuSans-35" transform="translate(120.0461 0)"/></g></g></g></g><g id="matplotlib.axis_14"/><g id="LineCollection_1"/><g id="patch_34"><path d="M 121.32 63 L 121.32 50.04 L 121.32 37.8 L 322.92 37.8 L 322.92 50.04 L 322.92 63 L 121.32 63 z" style="fill: none; stroke: #000000; stroke-width: 0.8; stroke-linejoin: miter; stroke-linecap: square"/></g></g><g id="axes_8"><g id="patch_35"><path d="M 495.586207 62.537931 L 696.689655 62.537931 L 696.689655 37.4 L 495.586207 37.4 z " style="fill: #ffffff"/></g><g class="img" transform="scale(0.72)"><use href="#cbg" x="688" y="52.5"/></g><g id="matplotlib.axis_15"><g id="xtick_40"><g id="line2d_95"><g><use href="#m1504cfccaf" x="546.84" y="63" style="stroke: #000000; stroke-width: 0.8"/></g></g><g id="text_91"><text class="tx" x="536.3598" y="77.6816" font-size="10">−45</text><g transform="translate(536.3598 77.6816) scale(0.1 -0.1)"><use href="#DejaVuSans-2212"/><use href="#DejaVuSans-34" transform="translate(76.5891 0)"/><use href="#DejaVuSans-35" transform="translate(140.2121 0)"/></g></g></g><g id="xtick_41"><g id="line2d_96"><g><use href="#m1504cfccaf" x="596.52" y="63" style="stroke: #000000; stroke-width: 0.8"/></g></g><g id="text_92"><text class="tx" x="588.8974" y="77.76" font-size="10">−1</text><g transform="translate(588.8974 77.76) scale(0.1 -0.1)"><use href="#DejaVuSans-2212"/><use href="#DejaVuSans-31" transform="translate(76.5891 0)"/></g></g></g><g id="xtick_42"><g id="line2d_97"><g><use href="#m1504cfccaf" x="646.92" y="63" style="stroke: #000000; stroke-width: 0.8"/></g></g><g id="text_93"><text class="tx" x="640.7476" y="77.6116" font-size="10">44</text><g transform="translate(640.7476 77.6116) scale(0.1 -0.1)"><use href="#DejaVuSans-34"/><use href="#DejaVuSans-34" transform="translate(56.423 0)"/></g></g></g></g><g id="matplotlib.axis_16"/><g id="LineCollection_2"/><g id="patch_36"><path d="M 495.72 63 L 495.72 50.04 L 495.72 37.8 L 697.32 37.8 L 697.32 50.04 L 697.32 63 L 495.72 63 z" style="fill: none; stroke: #000000; stroke-width: 0.8; stroke-linejoin: miter; stroke-linecap: square"/></g></g><g id="axes_9"><g id="patch_37"><path d="M 869.986207 62.537931 L 1071.089655 62.537931 L 1071.089655 37.4 L 869.986207 37.4 z " style="fill: #ffffff"/></g><g class="img" transform="scale(0.72)"><use href="#cbg" x="1208" y="52.5"/></g><g id="matplotlib.axis_17"><g id="xtick_43"><g id="line2d_98"><g><use href="#m1504cfccaf" x="924.12" y="63" style="stroke: #000000; stroke-width: 0.8"/></g></g><g id="text_94"><text class="tx" x="917.9876" y="77.9273" font-size="10">17</text><g transform="translate(917.9876 77.9273) scale(0.1 -0.1)"><use href="#DejaVuSans-31"/><use href="#DejaVuSans-37" transform="translate(56.423 0)"/></g></g></g><g id="xtick_44"><g id="line2d_99"><g><use href="#m1504cfccaf" x="957.96" y="63" style="stroke: #000000; stroke-width: 0.8"/></g></g><g id="text_95"><text class="tx" x="951.8869" y="77.8376" font-size="10">18</text><g transform="translate(951.8869 77.8376) scale(0.1 -0.1)"><defs><path id="DejaVuSans-38" d="M 2034 2216 Q 1584 2216 1326 1975 Q 1069 1734 1069 1313 Q 1069 891 1326 650 Q 1584 409 2034 409 Q 2484 409 2743 651 Q 3003 894 3003 1313 Q 3003 1734 2745 1975 Q 2488 2216 2034 2216 z M 1403 2484 Q 997 2584 770 2862 Q 544 3141 544 3541 Q 544 4100 942 4425 Q 1341 4750 2034 4750 Q 2731 4750 3128 4425 Q 3525 4100 3525 3541 Q 3525 3141 3298 2862 Q 3072 2584 2669 2484 Q 3125 2378 3379 2068 Q 3634 1759 3634 1313 Q 3634 634 3220 271 Q 2806 -91 2034 -91 Q 1263 -91 848 271 Q 434 634 434 1313 Q 434 1759 690 2068 Q 947 2378 1403 2484 z M 1172 3481 Q 1172 3119 1398 2916 Q 1625 2713 2034 2713 Q 2441 2713 2670 2916 Q 2900 3119 2900 3481 Q 2900 3844 2670 4047 Q 2441 4250 2034 4250 Q 1625 4250 1398 4047 Q 1172 3844 1172 3481 z " transform="scale(0.015625)"/></defs><use href="#DejaVuSans-31"/><use href="#DejaVuSans-38" transform="translate(56.423 0)"/></g></g></g><g id="xtick_45"><g id="line2d_100"><g><use href="#m1504cfccaf" x="1025.64" y="63" style="stroke: #000000; stroke-width: 0.8"/></g></g><g id="text_96"><text class="tx" x="1019.4692" y="77.8973" font-size="10">20</text><g transform="translate(1019.4692 77.8973) scale(0.1 -0.1)"><use href="#DejaVuSans-32"/><use href="#DejaVuSans-30" transform="translate(63.623047 0)"/></g></g></g></g><g id="matplotlib.axis_18"/><g id="LineCollection_3"/><g id="patch_38"><path d="M 870.12 63 L 870.12 50.04 L 870.12 37.8 L 1071.72 37.8 L 1071.72 50.04 L 1071.72 63 L 870.12 63 z" style="fill: none; stroke: #000000; stroke-width: 0.8; stroke-linejoin: miter; stroke-linecap: square"/></g></g></g><defs><clipPath id="p68ffd751c0"><rect x="75.6" y="32.4" width="252" height="251.28"/></clipPath><clipPath id="p68da430386"><rect x="450" y="32.4" width="252" height="251.28"/></clipPath><clipPath id="p4e08dcdfab"><rect x="824.4" y="32.4" width="252" height="251.28"/></clipPath><clipPath id="p82e4da5950"><rect x="57.6" y="364.32" width="288" height="251.28"/></clipPath><clipPath id="p38ba75cb41"><rect x="432" y="364.32" width="288" height="251.28"/></clipPath><clipPath id="p0a88ba42f2"><rect x="806.4" y="364.32" width="288" height="251.28"/></clipPath></defs></svg> </body></html>
